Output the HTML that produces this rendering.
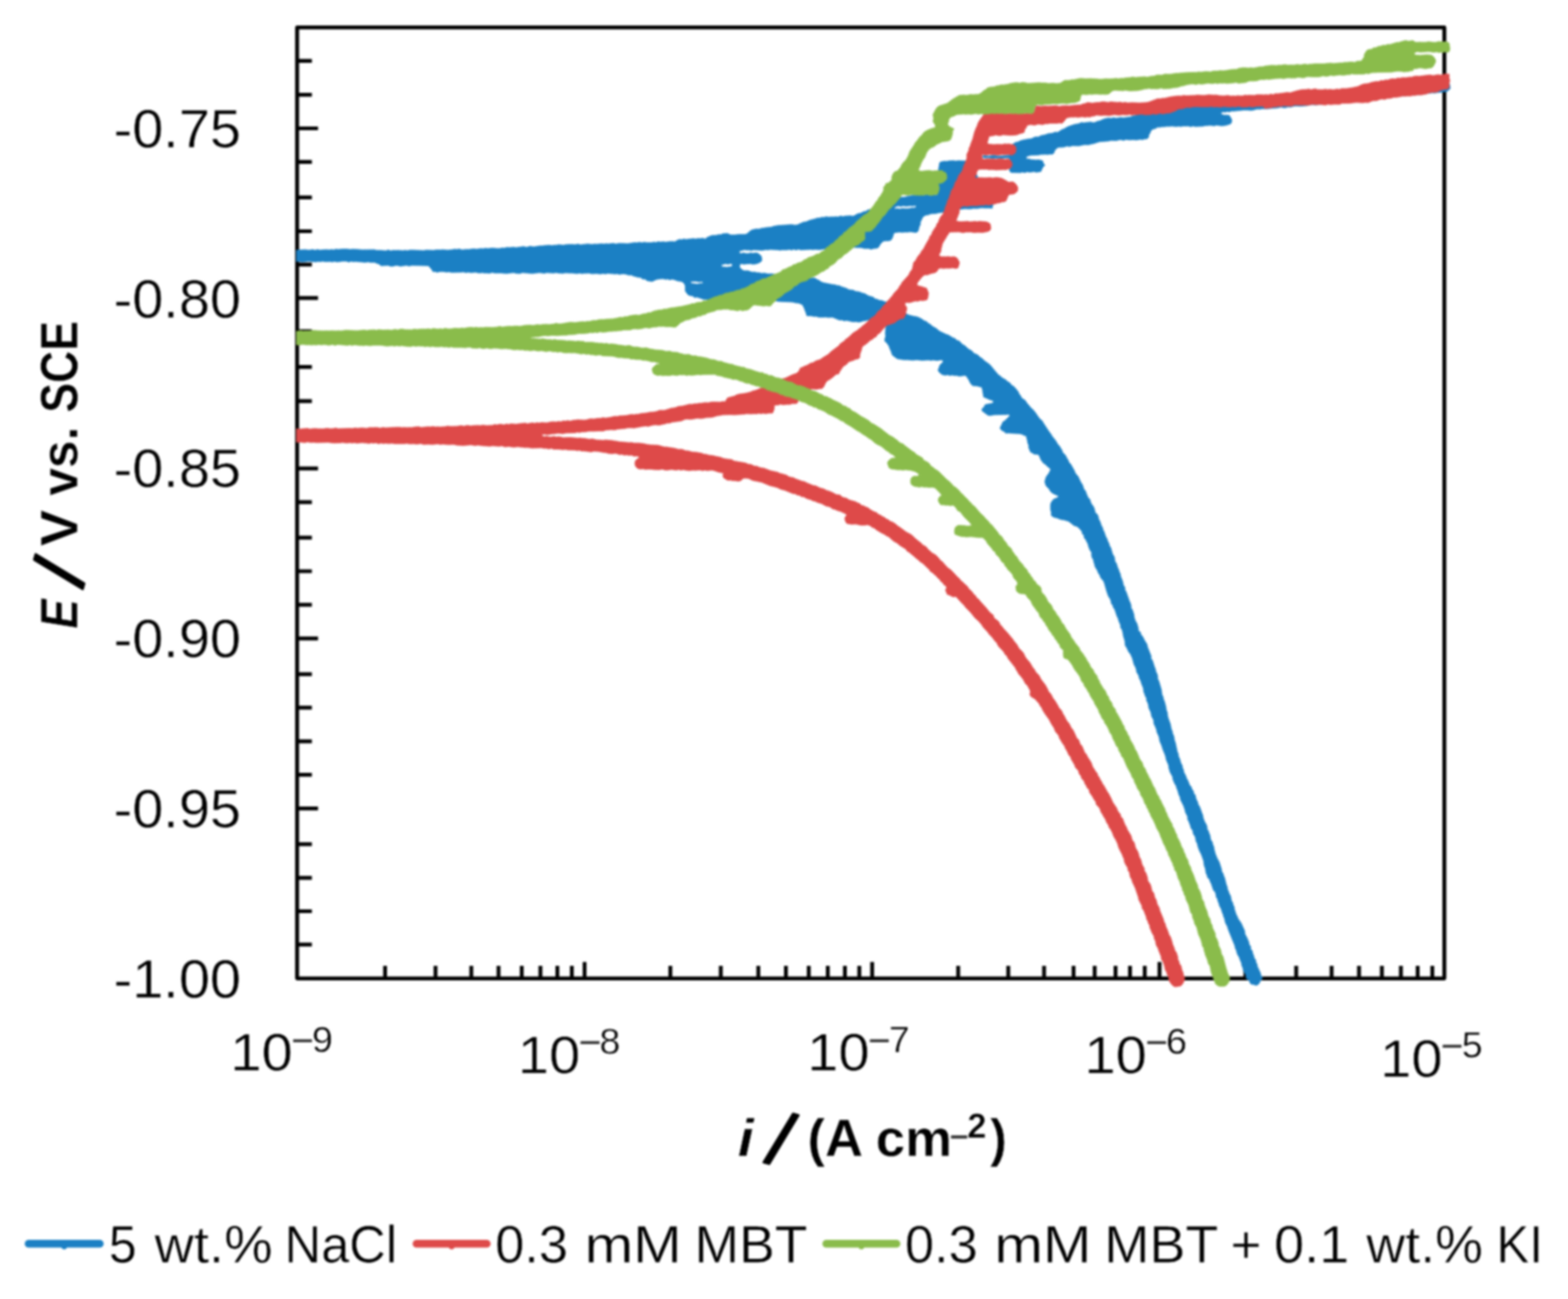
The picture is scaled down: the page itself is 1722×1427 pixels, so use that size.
<!DOCTYPE html>
<html lang="en"><head><meta charset="utf-8"><title>Polarization curves</title>
<style>
html,body{margin:0;padding:0;background:#fff;}
body{width:1722px;height:1427px;overflow:hidden;}
svg{display:block;}
text{font-family:"Liberation Sans","DejaVu Sans",sans-serif;fill:#000;stroke:#fff;stroke-width:0.45;stroke-linejoin:round;}
.b{font-weight:bold;}
.i{font-style:italic;}
</style></head><body>
<svg width="1722" height="1427" viewBox="0 0 1722 1427" role="img" aria-label="Potentiodynamic polarization curves">
<defs><filter id="soft" x="-2%" y="-2%" width="104%" height="104%" color-interpolation-filters="sRGB"><feGaussianBlur stdDeviation="1.0"/></filter></defs>
<rect width="1722" height="1427" fill="#fff"/>
<g filter="url(#soft)">
<g id="axes"><rect x="326.3" y="30.2" width="1259.9" height="1044.6" fill="none" stroke="#000" stroke-width="4.3" stroke-linejoin="round"/>
<path d="M326.3,66.9H342.5M326.3,104.1H342.5M326.3,177.9H342.5M326.3,216.9H342.5M326.3,254.0H342.5M326.3,290.7H342.5M326.3,363.8H342.5M326.3,403.2H342.5M326.3,440.6H342.5M326.3,478.0H342.5M326.3,551.6H342.5M326.3,590.6H342.5M326.3,627.5H342.5M326.3,664.4H342.5M326.3,740.7H342.5M326.3,777.4H342.5M326.3,814.3H342.5M326.3,851.2H342.5M326.3,927.3H342.5M326.3,964.3H342.5M326.3,1001.0H342.5M326.3,1037.6H342.5M326.3,141.0H349.3M326.3,327.4H349.3M326.3,514.7H349.3M326.3,701.3H349.3M326.3,888.2H349.3" stroke="#000" stroke-width="4.2" fill="none"/>
<path d="M422.9,1074.8V1061.0M478.3,1074.8V1061.0M517.6,1074.8V1061.0M547.5,1074.8V1061.0M573.0,1074.8V1061.0M593.5,1074.8V1061.0M612.1,1074.8V1061.0M628.0,1074.8V1061.0M736.2,1074.8V1061.0M791.6,1074.8V1061.0M832.8,1074.8V1061.0M863.1,1074.8V1061.0M888.2,1074.8V1061.0M909.1,1074.8V1061.0M927.9,1074.8V1061.0M943.7,1074.8V1061.0M1052.3,1074.8V1061.0M1107.3,1074.8V1061.0M1146.6,1074.8V1061.0M1179.0,1074.8V1061.0M1202.2,1074.8V1061.0M1225.1,1074.8V1061.0M1241.0,1074.8V1061.0M1257.2,1074.8V1061.0M1367.7,1074.8V1061.0M1423.5,1074.8V1061.0M1462.4,1074.8V1061.0M1492.5,1074.8V1061.0M1517.6,1074.8V1061.0M1538.5,1074.8V1061.0M1556.9,1074.8V1061.0M1573.0,1074.8V1061.0M642.0,1074.8V1056.8M957.8,1074.8V1056.8M1273.4,1074.8V1056.8" stroke="#000" stroke-width="4.2" fill="none"/></g>
<path id="blue" d="M1109.0,162.5 1108.3,168.3 1109.0,170.5 1096.0,171.6 1093.0,170.7 1090.8,170.6 1085.5,171.5 1080.3,170.8 1078.6,172.6 1081.5,173.4 1083.8,173.2 1086.9,173.3 1088.9,174.0 1096.5,173.7 1099.6,174.0 1107.2,173.3 1109.1,175.1 1109.2,177.9 1108.9,180.6 1108.7,187.8 1110.2,189.5 1120.6,189.8 1122.8,189.0 1125.1,189.7 1128.0,188.8 1131.0,189.2 1135.7,188.6 1137.9,189.2 1143.1,188.5 1144.2,185.9 1145.5,183.4 1147.5,181.6 1145.8,179.2 1145.1,176.7 1142.8,175.9 1140.0,175.6 1137.8,175.8 1131.9,175.3 1130.1,174.5 1127.2,174.8 1127.2,172.1 1130.1,171.1 1132.7,170.6 1140.7,170.3 1142.6,169.8 1148.5,169.6 1150.6,169.8 1153.4,169.3 1155.7,169.4 1157.5,168.1 1158.4,165.3 1160.0,163.5 1161.7,162.1 1164.7,161.8 1167.3,161.8 1172.0,160.5 1174.6,161.1 1177.8,160.1 1185.1,160.2 1190.6,159.0 1195.9,159.1 1198.4,158.2 1200.5,157.9 1207.3,155.8 1217.7,154.9 1220.1,154.3 1226.1,154.4 1228.5,153.8 1231.1,153.5 1233.9,154.3 1236.5,153.3 1241.0,153.8 1244.3,153.4 1247.0,153.8 1248.8,153.7 1252.2,153.1 1254.5,153.4 1257.1,152.7 1259.6,152.6 1261.4,150.9 1261.7,148.3 1263.1,146.0 1264.1,143.2 1266.6,141.8 1268.8,141.3 1271.1,139.8 1273.8,139.8 1276.0,139.2 1278.6,139.2 1281.9,138.8 1284.0,138.9 1286.5,138.6 1291.6,139.1 1294.7,138.7 1296.8,139.1 1299.4,138.5 1302.0,138.5 1305.4,138.6 1307.4,139.2 1310.3,138.5 1312.7,139.1 1320.9,138.7 1323.4,138.1 1325.3,138.1 1328.6,137.7 1333.8,138.2 1335.8,137.5 1341.6,138.2 1344.4,138.0 1346.9,137.6 1351.5,136.1 1352.8,133.6 1352.6,131.0 1350.0,126.8 1347.5,126.4 1344.7,126.4 1342.7,126.0 1340.5,124.8 1342.9,122.8 1345.2,123.3 1348.0,122.4 1349.8,123.1 1352.4,122.1 1355.4,122.1 1365.7,120.9 1371.2,121.0 1373.1,121.3 1376.5,121.0 1378.5,120.3 1381.0,119.8 1383.4,120.0 1386.1,119.5 1391.4,119.6 1396.6,119.0 1401.9,118.8 1406.9,117.7 1410.3,118.4 1412.2,118.2 1414.7,117.5 1417.6,117.7 1419.7,116.9 1422.9,116.4 1428.4,116.7 1433.4,116.3 1435.9,116.0 1438.1,115.2 1441.2,114.9 1445.9,115.2 1448.4,114.6 1450.9,114.8 1462.1,113.3 1464.2,113.3 1469.6,112.3 1472.1,112.6 1474.2,112.3 1476.7,112.2 1479.7,111.4 1482.6,111.2 1485.2,110.5 1487.6,110.7 1490.5,109.9 1492.6,110.2 1495.3,109.3 1498.0,109.2 1500.1,109.5 1502.7,108.8 1508.3,108.6 1518.6,107.1 1521.4,106.8 1523.7,106.9 1526.3,106.2 1529.2,106.0 1531.8,106.2 1536.2,105.3 1539.6,105.3 1544.6,104.8 1547.0,104.2 1549.4,104.1 1552.2,104.6 1554.7,103.8 1560.5,103.8 1562.5,103.0 1565.6,103.0 1568.0,102.3 1570.7,102.3 1572.9,101.9 1575.5,102.3 1578.4,101.7 1583.2,101.2 1585.6,100.7 1588.7,100.8 1590.3,99.6 1592.7,97.3 1592.4,95.0 1592.0,92.5 1590.6,90.4 1588.1,89.2 1585.8,89.2 1582.9,89.8 1580.4,89.4 1577.8,89.4 1575.3,90.4 1573.0,90.1 1562.6,91.5 1560.1,91.3 1557.0,91.6 1554.7,91.5 1552.0,92.2 1549.1,91.9 1546.6,92.3 1539.1,92.7 1536.5,93.1 1533.7,93.9 1526.5,94.0 1524.0,95.0 1521.2,94.4 1518.6,95.2 1516.1,95.1 1513.7,96.1 1510.3,95.8 1505.9,97.0 1503.0,97.0 1495.0,97.7 1492.1,98.2 1490.2,98.2 1487.7,98.8 1484.6,98.4 1479.4,99.4 1477.5,99.5 1474.9,100.2 1472.2,100.2 1468.8,100.8 1466.4,100.5 1464.4,101.3 1461.2,101.1 1451.2,101.8 1448.6,102.9 1445.6,102.6 1443.6,103.1 1438.2,103.8 1430.3,104.4 1428.0,104.3 1424.8,105.1 1422.9,104.5 1420.3,104.8 1417.4,105.6 1414.8,105.3 1412.1,105.3 1404.5,106.0 1402.1,106.9 1396.7,106.5 1393.8,107.5 1388.5,107.7 1386.7,108.1 1383.3,108.0 1381.0,108.4 1378.1,108.1 1373.3,109.3 1370.6,108.5 1365.2,109.5 1363.5,109.7 1360.6,109.6 1357.9,110.2 1355.3,110.5 1352.7,110.1 1347.1,110.9 1345.2,110.6 1342.3,111.3 1339.6,111.1 1331.5,112.2 1329.7,111.7 1326.6,112.6 1325.2,114.9 1321.8,114.4 1319.3,114.7 1317.5,114.4 1311.9,115.5 1309.2,115.0 1306.5,116.1 1304.3,115.4 1301.8,116.0 1299.2,116.0 1293.7,117.6 1291.2,117.5 1280.8,119.4 1278.1,119.1 1275.6,120.1 1272.9,120.0 1270.8,120.3 1268.4,121.3 1265.3,121.5 1262.6,121.1 1260.2,121.6 1258.2,121.6 1252.9,125.1 1243.9,127.4 1241.3,128.5 1233.4,129.4 1231.1,129.0 1225.7,129.9 1223.3,129.3 1220.1,130.1 1218.0,129.7 1215.4,129.9 1212.3,130.7 1207.7,132.8 1205.0,133.2 1203.1,134.3 1200.5,134.8 1197.8,133.9 1190.1,134.9 1187.3,134.6 1185.3,135.7 1179.7,136.8 1172.9,139.1 1168.6,141.5 1165.5,142.7 1164.0,143.9 1161.1,145.4 1158.9,145.1 1156.0,146.3 1150.7,146.9 1147.9,148.1 1143.2,148.9 1140.3,150.4 1138.2,150.3 1136.0,150.7 1133.0,152.3 1127.8,152.9 1122.7,154.0 1120.7,154.6 1117.7,156.0 1115.5,156.3 1108.9,160.6ZM325.6,287.4 328.1,286.9 331.4,287.9 338.8,286.9 347.0,287.8 349.0,287.2 352.3,287.4 354.0,286.9 357.5,287.5 362.2,287.3 365.3,287.8 367.0,287.1 369.9,287.7 372.7,287.6 375.3,287.1 378.1,286.9 380.6,287.1 383.0,287.9 385.7,287.0 388.2,287.6 390.4,287.3 400.9,288.2 404.3,287.8 406.4,288.2 411.4,288.2 413.7,289.3 416.5,290.2 418.5,292.0 426.2,291.6 428.8,292.5 431.7,292.4 434.1,291.7 436.9,291.7 439.4,292.4 446.6,291.6 449.1,292.3 452.5,291.6 470.6,292.0 474.1,296.0 475.5,298.4 478.0,298.2 480.0,299.2 482.5,298.5 486.0,298.3 490.4,298.9 493.5,298.7 495.6,299.3 506.7,299.1 509.0,298.8 511.6,299.5 514.4,299.1 517.3,299.6 522.3,299.1 524.7,299.7 527.2,299.9 529.8,299.6 532.2,300.1 534.8,299.9 537.5,300.2 540.6,299.3 543.3,300.0 550.3,299.9 556.1,300.4 564.1,299.6 566.6,300.2 571.2,300.4 573.6,299.6 584.6,300.4 592.5,299.6 597.8,300.3 600.4,299.6 607.9,300.1 610.8,299.5 612.7,299.9 618.2,300.3 621.0,299.8 626.4,300.1 628.2,300.0 633.9,300.6 636.3,300.1 639.1,300.6 641.8,300.2 647.3,300.1 649.0,300.7 651.8,300.8 654.7,300.5 659.4,301.0 662.8,300.4 664.7,301.0 667.6,300.3 675.8,301.1 677.7,300.8 680.6,301.4 682.8,300.9 686.2,300.9 690.8,302.3 693.1,302.1 695.6,303.2 698.4,303.9 701.4,304.7 703.2,304.7 705.8,306.6 708.6,306.7 710.9,308.5 716.2,309.2 720.9,307.1 725.6,306.3 728.6,306.2 731.2,307.0 733.2,306.6 735.6,307.4 738.2,306.7 741.5,307.6 743.7,308.6 748.5,309.3 750.8,310.7 752.2,312.9 752.6,314.8 752.6,319.7 754.2,322.0 755.8,323.9 758.6,324.9 761.0,325.0 762.3,326.8 765.8,326.6 773.1,329.0 775.8,328.9 778.3,329.4 785.7,329.2 788.5,329.4 791.5,329.9 796.7,329.4 799.0,329.5 801.7,330.0 809.5,329.9 817.3,329.2 819.3,329.8 830.2,329.6 832.7,329.4 835.5,329.8 838.2,329.8 843.2,330.7 846.1,329.9 856.1,331.2 868.6,331.8 871.4,332.1 873.8,332.8 877.1,333.0 881.3,334.8 883.4,338.9 884.2,341.5 885.5,344.7 886.0,346.9 891.1,347.0 894.1,347.7 896.0,347.5 899.3,348.4 904.7,348.5 906.9,348.2 909.2,348.8 914.4,348.6 922.1,351.7 924.5,351.5 927.0,352.4 929.3,352.0 932.2,352.5 935.1,353.3 937.9,353.6 940.1,353.3 942.9,353.9 945.4,353.4 948.0,352.6 950.4,352.3 952.7,351.7 955.0,351.4 957.8,351.9 963.1,353.9 970.9,355.0 973.2,356.6 972.2,366.4 972.7,369.0 971.8,372.2 971.6,374.8 973.7,376.6 976.2,380.1 977.2,382.9 978.4,385.5 979.9,390.1 984.4,393.5 985.9,394.2 990.9,395.1 993.7,395.3 996.6,395.2 1002.3,395.8 1006.7,395.3 1012.6,395.9 1019.9,395.5 1022.5,396.0 1024.7,395.5 1027.7,395.9 1030.5,395.9 1032.6,395.4 1035.4,395.5 1035.6,398.3 1033.8,399.3 1031.7,402.0 1031.3,404.1 1030.1,406.4 1031.5,409.0 1034.7,411.6 1038.2,412.2 1040.9,411.7 1042.9,412.6 1045.8,412.0 1048.1,412.6 1051.0,412.6 1053.1,413.2 1056.0,413.1 1058.6,412.6 1060.9,412.7 1063.9,417.3 1066.0,421.6 1068.4,423.8 1073.3,424.1 1076.2,425.0 1077.9,425.1 1079.0,427.9 1079.3,431.0 1079.9,433.6 1080.1,436.1 1084.5,437.9 1087.2,439.3 1089.0,439.5 1091.3,441.1 1089.8,442.9 1081.9,444.5 1080.8,446.9 1078.5,449.0 1078.4,451.3 1084.8,456.1 1086.9,456.6 1092.0,455.7 1102.6,455.4 1105.2,455.5 1107.9,455.0 1109.0,456.9 1106.8,458.8 1105.1,460.7 1103.3,462.3 1101.3,463.6 1100.3,466.1 1099.0,468.4 1098.3,470.7 1100.4,473.0 1102.7,473.9 1104.7,476.1 1106.6,475.7 1119.8,476.4 1122.8,477.2 1124.6,478.3 1127.1,479.0 1127.6,481.7 1128.3,484.0 1128.6,486.6 1129.8,489.2 1129.7,491.8 1131.8,496.7 1133.8,497.6 1135.8,499.0 1139.1,499.1 1141.1,500.1 1143.1,505.1 1145.8,508.7 1148.2,510.2 1150.0,512.3 1151.6,513.3 1153.9,515.7 1151.9,519.7 1148.8,524.1 1147.4,529.1 1147.9,531.1 1148.7,533.5 1152.4,537.6 1153.6,539.8 1155.3,541.5 1159.8,543.7 1162.6,544.7 1161.3,546.8 1159.0,547.5 1156.7,548.7 1154.1,552.6 1153.7,555.2 1153.8,560.2 1154.6,563.1 1154.4,566.1 1156.0,567.4 1158.1,568.5 1160.6,568.9 1163.8,570.3 1166.3,571.0 1168.1,571.1 1173.7,572.8 1179.6,577.4 1182.5,578.2 1184.9,580.0 1188.1,583.8 1188.7,586.4 1190.4,588.1 1190.7,591.0 1192.4,592.7 1193.4,595.1 1194.8,597.5 1195.2,599.6 1196.4,602.9 1197.3,604.8 1198.8,606.8 1198.8,610.1 1199.3,612.7 1200.7,614.5 1201.2,617.4 1202.0,619.7 1202.4,622.1 1205.4,627.3 1206.1,629.4 1207.5,631.2 1208.6,634.2 1209.9,636.1 1211.7,638.1 1212.7,640.2 1215.6,650.5 1217.5,655.6 1218.8,657.3 1220.0,659.9 1220.4,662.9 1222.1,665.1 1222.6,667.2 1224.2,669.5 1226.7,677.1 1227.8,679.1 1228.6,681.9 1230.7,687.1 1230.6,689.6 1232.0,691.2 1232.9,694.0 1233.7,698.7 1235.3,704.0 1235.8,709.2 1237.1,711.1 1239.6,716.3 1241.3,718.3 1243.5,723.0 1245.5,730.4 1246.8,732.5 1247.9,735.4 1248.1,738.1 1250.6,742.2 1251.2,745.3 1252.5,747.6 1254.1,752.4 1255.3,755.1 1255.9,757.7 1256.0,760.0 1257.1,762.5 1257.7,764.7 1259.0,766.7 1259.2,769.7 1260.5,772.0 1261.2,774.4 1261.5,777.2 1262.6,780.0 1263.7,781.9 1264.8,787.3 1266.2,789.5 1267.0,791.6 1267.1,794.7 1269.1,799.0 1270.2,802.1 1270.4,804.1 1272.8,809.2 1273.7,814.2 1275.6,818.7 1277.5,824.5 1279.4,828.9 1280.1,831.2 1280.7,834.4 1283.4,840.8 1283.6,843.5 1284.5,846.7 1285.1,848.5 1287.8,853.4 1288.1,856.3 1290.0,860.8 1291.7,863.5 1292.2,865.7 1293.3,868.2 1294.7,873.2 1296.0,875.7 1296.3,878.2 1299.8,885.3 1301.4,889.9 1301.7,892.1 1304.2,897.0 1304.3,900.3 1305.5,902.3 1307.4,907.4 1308.0,909.9 1309.8,912.1 1310.1,914.2 1310.8,916.7 1312.4,918.8 1313.2,922.0 1313.3,923.8 1314.9,926.8 1315.4,929.5 1317.0,934.1 1319.4,938.9 1321.9,945.9 1322.1,948.7 1322.5,950.9 1323.7,954.1 1324.4,958.9 1325.7,961.8 1326.2,964.1 1328.3,965.9 1329.1,968.7 1330.1,970.6 1332.7,978.2 1334.5,979.8 1335.4,982.9 1335.6,985.2 1337.0,987.5 1337.7,990.5 1338.7,992.5 1339.0,994.6 1340.7,997.7 1341.6,999.9 1342.2,1002.3 1343.2,1004.6 1343.9,1007.2 1344.9,1009.4 1345.2,1011.7 1346.3,1014.9 1347.7,1017.2 1349.3,1022.2 1356.0,1038.7 1356.6,1041.7 1357.8,1044.0 1358.3,1046.5 1359.3,1049.1 1360.7,1051.2 1363.5,1058.6 1363.6,1060.5 1365.0,1063.5 1365.5,1066.1 1366.6,1068.6 1367.9,1070.5 1369.0,1075.5 1371.9,1076.6 1372.4,1079.0 1373.9,1081.1 1376.8,1081.6 1379.3,1082.4 1381.6,1081.7 1383.3,1079.6 1384.2,1077.6 1386.0,1075.2 1386.2,1073.7 1384.7,1071.2 1384.2,1068.8 1380.9,1061.7 1380.5,1058.9 1379.3,1057.3 1379.1,1054.8 1377.4,1052.3 1376.7,1049.3 1375.8,1047.6 1375.3,1044.6 1373.6,1042.7 1373.6,1039.9 1371.9,1037.5 1371.5,1035.0 1369.3,1029.7 1368.3,1028.1 1367.1,1025.5 1367.0,1022.7 1362.9,1013.7 1359.7,1009.2 1358.9,1006.9 1357.6,1004.5 1355.7,998.8 1355.5,996.3 1354.2,993.9 1353.8,991.4 1352.5,989.7 1351.4,983.9 1350.2,982.2 1349.4,979.7 1348.0,976.6 1347.9,974.6 1346.7,971.6 1344.9,964.2 1343.8,961.7 1343.3,959.7 1341.9,957.6 1341.4,954.6 1339.0,947.0 1336.7,942.7 1334.7,937.8 1333.3,932.4 1333.1,930.2 1332.0,927.9 1331.4,925.0 1329.8,922.8 1329.1,919.8 1329.0,918.0 1327.7,915.0 1327.2,913.0 1325.8,910.9 1325.7,908.4 1324.7,905.6 1323.3,903.3 1322.2,900.8 1321.2,897.7 1321.0,895.6 1320.1,893.6 1317.6,886.4 1315.8,883.4 1315.3,880.9 1314.2,879.1 1313.1,875.9 1312.9,873.6 1311.2,872.0 1310.6,869.1 1308.8,866.6 1308.5,864.8 1306.5,862.4 1304.4,857.1 1303.0,854.9 1302.7,853.2 1300.0,847.9 1299.9,846.0 1298.7,843.4 1298.4,841.1 1296.9,838.3 1295.4,833.0 1294.2,831.0 1294.1,828.6 1292.9,825.5 1290.9,816.1 1289.8,812.9 1289.6,810.9 1288.9,808.0 1287.7,805.4 1287.6,803.5 1286.4,801.0 1285.3,795.3 1282.8,788.3 1282.2,785.5 1282.0,782.6 1281.1,780.6 1280.1,775.1 1278.7,770.1 1277.8,768.1 1277.5,765.7 1276.2,763.2 1275.5,757.8 1272.7,748.2 1271.4,745.6 1271.3,742.3 1270.7,740.3 1269.3,737.4 1269.0,735.2 1267.9,732.6 1265.6,725.3 1264.1,723.4 1264.2,720.7 1260.2,710.6 1259.7,707.8 1257.3,704.0 1254.7,698.9 1253.1,697.3 1252.4,694.4 1250.2,692.9 1250.1,690.1 1248.6,684.8 1247.3,682.7 1246.3,680.3 1245.6,677.8 1245.3,675.1 1243.6,669.7 1242.2,667.9 1242.2,665.4 1241.4,662.3 1240.5,660.7 1236.8,650.2 1235.4,647.7 1235.4,645.3 1233.8,642.8 1232.9,638.5 1230.7,632.9 1230.4,630.5 1229.2,628.1 1228.5,625.6 1227.3,623.2 1226.8,621.1 1225.8,618.4 1224.4,616.4 1224.2,613.9 1223.6,611.2 1221.9,608.8 1219.9,601.7 1218.4,599.3 1217.9,596.9 1216.6,594.6 1215.6,591.4 1214.4,589.5 1212.6,584.2 1211.3,581.7 1210.9,579.5 1209.7,577.7 1208.1,572.9 1206.5,569.9 1206.2,567.7 1205.1,565.0 1203.0,563.4 1201.6,558.1 1200.5,555.9 1198.6,553.4 1197.7,551.3 1196.9,548.6 1194.9,546.4 1193.1,542.2 1192.1,539.2 1190.6,537.8 1188.7,532.3 1187.1,530.0 1183.8,523.0 1182.3,521.6 1180.7,519.2 1179.9,516.9 1175.7,509.6 1174.1,508.2 1173.0,505.2 1171.9,503.7 1170.5,500.8 1168.9,498.7 1167.1,497.2 1166.2,494.2 1165.2,492.9 1163.6,490.0 1161.6,488.1 1159.5,484.2 1155.7,479.4 1154.2,476.9 1151.5,473.2 1145.8,464.6 1144.4,462.0 1142.3,460.6 1139.1,456.2 1138.0,454.4 1134.8,450.3 1132.7,448.6 1127.6,442.6 1126.1,440.1 1121.8,437.0 1121.0,435.0 1119.1,432.4 1118.2,430.2 1114.6,425.8 1112.7,424.1 1110.6,423.0 1109.3,420.7 1106.3,419.1 1105.0,417.6 1100.1,414.7 1098.5,412.9 1096.6,411.9 1089.9,404.0 1088.4,401.9 1086.4,400.0 1082.1,397.0 1079.7,395.0 1078.4,393.5 1076.3,392.5 1074.0,390.0 1069.4,387.9 1067.4,385.6 1063.4,383.2 1059.4,379.6 1057.1,378.4 1053.3,374.5 1050.4,373.7 1049.0,371.9 1046.3,370.9 1041.6,368.1 1039.1,367.3 1032.3,364.1 1030.1,362.6 1028.4,360.8 1025.9,359.6 1023.5,358.0 1021.4,356.1 1019.8,355.4 1017.9,353.4 1014.8,352.3 1012.9,350.8 1008.5,348.4 1006.1,347.8 1003.9,347.5 997.9,346.0 993.6,343.8 990.9,343.0 986.2,341.1 982.4,338.0 979.5,336.2 978.0,334.7 975.5,333.6 973.6,331.8 971.2,331.3 968.2,330.1 966.0,330.0 963.2,328.7 960.9,328.3 959.2,326.5 953.9,325.0 949.1,322.3 947.1,322.1 944.9,321.0 941.6,320.2 939.4,320.1 937.2,318.8 934.4,318.5 931.6,317.9 929.7,316.7 924.2,315.0 921.7,313.8 919.6,313.7 916.9,312.8 915.1,312.7 904.2,310.6 901.6,309.6 900.1,308.3 897.4,307.1 895.2,305.7 893.3,305.2 890.5,305.7 887.5,305.2 879.8,307.0 877.8,305.6 872.7,305.2 870.5,304.1 868.0,303.9 864.6,303.3 862.2,303.3 859.8,302.0 857.5,301.9 855.0,300.9 852.5,301.6 849.0,300.9 846.6,300.8 843.9,300.9 839.3,299.9 836.3,300.3 833.5,299.4 831.2,299.5 828.7,298.8 826.3,299.0 820.9,297.3 818.6,297.4 816.0,297.1 813.8,295.3 812.3,293.7 812.4,290.4 814.5,289.7 816.8,290.3 819.3,289.9 824.2,289.7 826.9,290.3 829.8,290.0 831.9,289.4 834.9,288.1 836.6,286.4 836.6,284.0 836.0,281.4 834.4,279.7 831.9,278.0 829.5,277.8 826.9,278.2 824.6,277.8 821.6,278.5 819.0,278.5 816.7,277.7 813.8,278.5 811.7,277.7 812.7,275.2 814.8,275.2 817.3,274.3 819.8,274.8 823.0,274.8 825.0,275.2 827.7,274.4 835.8,275.0 837.8,274.9 841.1,274.2 843.4,274.6 845.8,274.1 854.2,274.5 856.3,274.9 858.8,274.6 864.4,274.6 866.8,274.0 869.5,274.7 871.8,273.8 874.3,274.7 876.7,273.8 879.4,274.6 890.2,274.0 892.3,274.3 895.2,274.0 900.2,274.3 907.2,273.3 913.0,272.1 914.9,272.9 917.8,272.0 920.5,272.5 923.1,271.7 925.1,272.0 927.7,271.5 933.0,272.1 938.7,271.8 941.1,272.1 943.5,272.0 946.7,272.2 948.8,273.0 954.5,273.0 956.4,273.9 959.1,273.1 962.3,272.8 964.5,272.1 967.0,268.0 969.3,265.5 971.0,264.7 976.5,264.5 978.6,263.7 979.8,261.8 980.6,259.9 981.5,256.6 983.0,255.5 988.0,254.9 990.5,255.3 993.6,255.0 996.2,255.1 998.7,254.8 1000.8,254.7 1004.1,255.3 1006.7,255.3 1008.4,253.8 1009.7,248.5 1010.8,246.8 1010.7,244.2 1013.2,239.1 1014.6,237.4 1017.2,236.2 1019.6,236.1 1021.6,235.1 1024.5,234.7 1027.0,234.7 1030.2,233.9 1037.0,233.0 1039.7,231.9 1042.6,232.0 1045.4,231.3 1048.2,231.2 1050.7,230.7 1052.5,229.8 1055.6,229.9 1058.0,229.4 1060.3,229.3 1063.0,229.6 1065.5,229.6 1068.8,228.9 1073.6,229.1 1076.6,228.4 1079.2,228.2 1080.9,228.6 1086.6,228.5 1089.6,228.9 1090.7,223.6 1089.8,221.8 1088.1,219.6 1087.5,217.0 1085.6,214.9 1084.3,212.9 1083.3,210.2 1082.2,208.3 1080.2,205.8 1077.7,201.4 1077.0,199.2 1075.5,196.6 1073.7,194.5 1072.9,192.6 1070.8,189.9 1069.6,187.8 1068.1,186.3 1065.0,181.5 1064.0,179.3 1062.4,177.4 1060.4,176.7 1057.2,176.8 1052.5,176.4 1049.5,176.9 1047.5,176.4 1042.1,176.7 1039.9,177.2 1037.2,177.1 1034.4,177.5 1032.0,178.4 1030.7,186.1 1030.9,191.1 1029.8,196.6 1030.4,199.2 1029.9,201.7 1029.9,204.2 1029.4,207.1 1029.3,209.7 1029.5,212.2 1028.7,214.6 1026.3,214.1 1023.0,214.3 1021.0,214.2 1017.5,213.6 1015.3,214.4 1013.1,214.0 1010.2,214.1 1007.2,213.6 1005.0,214.5 1002.8,214.5 1000.2,214.9 992.6,216.7 989.0,216.7 987.2,217.7 984.3,217.9 982.5,219.0 979.4,219.8 977.5,221.2 975.2,222.4 972.1,223.5 970.5,224.5 968.0,224.9 965.1,226.4 962.8,226.9 960.7,228.1 955.7,230.1 953.1,230.6 951.2,232.1 948.6,232.4 945.5,234.1 941.3,235.1 938.6,236.8 936.1,237.5 934.1,236.9 928.1,237.3 925.8,238.0 923.5,237.2 920.2,238.3 918.1,238.0 915.3,238.3 912.9,238.2 910.0,238.5 907.4,237.9 905.2,238.8 902.3,238.8 899.6,239.6 897.7,239.5 894.9,240.5 889.7,241.8 884.8,243.8 882.4,243.9 875.5,247.1 872.4,247.2 870.2,246.8 867.7,246.8 854.1,247.7 849.5,248.6 847.0,249.5 841.1,250.0 838.4,250.6 836.4,250.7 833.2,251.7 830.8,251.5 828.1,252.0 825.9,252.6 823.7,253.7 822.1,255.4 819.6,257.2 817.0,257.6 812.0,257.4 806.8,258.1 802.2,258.0 799.1,256.4 793.9,256.7 791.7,257.8 789.4,257.7 786.4,258.4 781.5,258.7 776.6,260.7 774.8,262.4 771.9,261.7 768.8,262.1 766.5,261.9 763.6,262.5 761.7,262.0 753.5,263.1 750.9,262.6 748.7,263.3 746.3,262.9 743.2,264.2 741.5,265.4 736.4,265.2 731.0,266.0 728.0,265.5 726.0,265.9 722.7,265.5 720.6,266.3 717.8,265.9 715.3,266.6 710.3,266.5 707.3,266.0 704.9,266.7 702.6,266.1 699.1,266.7 697.2,266.4 688.7,267.7 686.3,267.4 681.0,267.3 678.8,267.4 676.3,268.1 673.6,267.3 668.2,267.9 665.9,267.7 663.1,268.1 660.5,267.8 655.1,268.2 652.7,268.1 650.3,268.5 645.4,267.9 637.3,268.9 634.9,268.1 631.9,268.8 627.2,268.4 621.4,268.7 618.9,269.3 613.3,268.8 611.6,269.2 609.0,269.3 606.1,269.8 602.9,269.3 595.4,270.1 592.8,270.1 587.3,271.0 585.1,271.1 582.1,270.4 579.6,271.3 577.3,271.4 575.0,270.8 566.6,272.0 564.4,271.6 559.4,271.9 556.6,271.8 553.7,272.6 551.5,272.3 549.1,272.9 545.9,273.0 540.8,272.5 535.7,273.1 533.6,272.7 530.3,273.2 527.9,273.0 523.2,273.8 520.5,273.3 514.7,274.1 512.2,273.9 507.4,274.4 504.2,273.5 501.7,274.1 499.3,273.7 496.5,274.3 491.6,274.8 486.3,274.3 483.6,274.5 478.6,274.5 476.4,275.0 468.2,274.7 465.3,275.2 452.9,274.7 449.7,274.8 447.7,275.3 444.9,274.9 442.4,275.3 437.2,274.9 434.0,275.1 431.5,274.9 429.2,275.5 426.2,274.6 424.0,275.4 418.3,275.0 413.5,274.9 410.8,274.2 398.0,274.4 392.3,273.9 387.2,273.8 384.7,274.1 380.0,273.6 374.4,273.7 371.5,274.1 369.0,273.7 366.4,274.4 364.2,274.1 361.7,274.5 359.1,274.2 356.2,274.3 351.2,274.8 348.2,274.0 346.3,274.9 343.0,274.1 340.3,274.7 337.8,274.7 335.8,274.2 325.6,274.8ZM983.9,226.9 987.0,226.1 989.0,226.9 991.8,226.0 994.9,226.6 999.8,226.1 1002.3,226.3 1005.6,225.7 1006.3,227.6 1003.5,228.4 1001.8,228.3 999.0,229.0 995.9,229.2 990.6,228.9 987.9,229.7 986.0,229.1 982.7,229.5 982.4,228.0ZM792.2,291.0 796.5,289.8 799.8,290.3 802.4,289.5 804.5,290.5 803.5,292.9 800.8,293.1 798.7,293.6 792.7,293.0ZM758.4,309.2 763.8,309.0 768.5,309.7 771.2,309.0 772.2,311.3 769.7,311.3 766.5,311.9 764.1,312.0 761.3,311.4 759.1,311.3Z" fill="#1b80c4" stroke="#1b80c4" stroke-width="0.6" stroke-linejoin="round"/>
<path id="red" d="M595.0,477.2 598.3,477.1 600.6,477.5 603.3,477.3 606.3,476.7 608.7,476.7 610.7,476.2 613.4,476.0 618.3,476.4 621.4,475.8 631.8,475.4 634.0,474.7 636.4,475.2 639.0,474.4 642.2,474.5 646.9,473.7 652.4,473.8 657.2,473.4 660.7,473.6 662.9,473.4 665.2,472.5 670.9,472.1 675.5,472.3 678.1,471.4 683.7,470.9 685.7,470.9 689.0,470.1 693.4,470.0 696.3,470.2 706.6,468.3 709.8,468.0 711.6,468.4 716.9,467.1 720.0,466.7 722.1,467.0 724.7,467.0 727.1,466.2 730.1,465.8 732.8,464.8 735.1,464.9 737.2,464.1 740.1,463.5 748.0,462.5 752.6,460.6 755.3,460.4 758.3,460.7 766.3,459.4 768.3,459.8 770.8,459.8 775.8,458.8 781.0,458.6 783.7,458.1 786.6,457.1 793.8,455.8 802.0,455.5 806.8,455.8 815.2,455.1 817.5,455.1 819.6,454.6 825.4,454.8 828.2,454.5 830.4,454.7 833.3,454.1 835.5,454.5 838.3,454.0 840.9,454.5 843.7,453.9 848.5,453.8 849.7,451.0 850.4,448.5 850.1,446.1 851.7,445.0 854.9,444.9 857.0,443.9 859.9,444.7 864.4,444.2 867.5,444.3 870.5,443.3 872.7,443.4 875.3,443.1 876.4,441.2 877.2,438.9 882.1,435.5 885.6,432.1 887.5,430.9 889.2,428.5 891.6,427.2 897.1,427.7 899.6,427.0 902.2,427.1 904.0,425.8 905.2,424.1 906.0,422.0 907.6,419.2 909.6,417.8 911.9,416.5 916.4,412.9 918.1,411.2 921.1,410.8 922.2,408.3 926.1,402.4 929.0,400.8 930.7,399.2 932.0,397.5 937.5,395.8 939.4,394.8 942.2,394.3 944.3,392.8 944.2,390.6 944.9,387.6 946.0,384.8 946.5,382.3 947.3,380.6 952.1,377.3 955.7,373.9 958.2,372.7 960.2,370.8 962.3,369.9 963.5,367.4 966.1,366.1 969.5,361.7 971.2,360.3 972.8,358.3 975.3,356.9 977.3,356.5 982.9,354.5 985.1,352.4 989.2,350.2 992.3,350.0 994.7,345.5 995.0,342.4 995.8,340.2 995.8,337.6 994.2,335.5 993.7,332.9 995.7,332.3 998.3,332.4 1001.0,332.1 1003.1,331.2 1005.5,330.8 1008.1,331.0 1010.6,330.0 1013.9,330.3 1018.1,329.3 1019.0,326.8 1019.7,321.8 1017.5,316.5 1014.7,315.7 1012.6,314.9 1009.8,314.3 1007.5,313.4 1007.0,312.4 1007.9,310.0 1013.0,303.8 1015.5,302.0 1018.3,302.1 1023.4,300.2 1025.5,299.9 1027.8,299.1 1029.3,297.8 1030.6,295.2 1033.6,294.5 1035.6,295.1 1038.5,294.7 1043.5,294.7 1046.1,294.2 1049.2,294.9 1051.9,294.5 1053.4,290.3 1053.6,287.8 1052.5,286.1 1051.4,283.8 1049.0,282.2 1047.3,281.9 1043.8,282.3 1041.4,281.8 1039.2,282.1 1036.1,281.9 1033.8,282.1 1031.1,280.8 1032.2,278.1 1033.2,276.6 1033.5,273.9 1034.9,268.2 1035.8,266.2 1038.7,261.7 1040.0,259.3 1041.5,257.3 1042.7,255.0 1053.2,254.8 1057.9,255.7 1060.6,255.0 1066.5,254.9 1068.6,255.4 1071.7,255.6 1073.7,255.2 1078.9,255.5 1084.1,254.6 1086.9,253.4 1088.0,251.7 1088.1,249.2 1087.3,245.8 1085.4,244.6 1083.3,243.7 1075.8,243.1 1073.0,243.5 1070.9,243.1 1065.2,243.7 1062.9,243.1 1054.9,243.6 1049.9,242.7 1053.5,233.5 1053.6,230.2 1055.1,228.0 1057.0,226.6 1059.5,226.3 1062.0,226.8 1064.8,226.1 1069.5,225.9 1072.7,226.1 1077.9,225.3 1080.4,225.5 1083.0,224.7 1085.6,225.4 1089.9,224.4 1093.1,224.0 1095.8,223.0 1097.6,223.0 1100.1,221.9 1102.8,221.8 1104.9,220.7 1106.9,215.8 1108.2,213.7 1113.8,212.9 1115.8,211.6 1117.4,210.0 1117.9,207.0 1117.4,204.9 1116.0,202.8 1114.2,200.8 1112.3,199.8 1107.6,200.1 1105.0,198.4 1100.6,196.1 1095.9,195.0 1092.7,195.0 1090.4,195.5 1087.5,195.0 1082.2,195.3 1074.6,195.1 1071.8,195.7 1070.5,194.0 1072.2,192.2 1072.6,189.4 1073.8,186.7 1075.9,186.1 1078.9,185.9 1081.7,186.0 1083.7,185.9 1086.8,186.6 1088.6,186.3 1091.5,186.4 1094.1,186.8 1102.0,186.3 1104.7,186.4 1110.0,184.7 1111.8,180.9 1110.9,177.7 1109.2,175.5 1106.6,174.4 1104.3,175.2 1099.0,174.2 1097.0,174.3 1093.7,175.0 1091.2,174.4 1089.3,174.4 1083.7,174.5 1080.9,175.1 1078.9,174.4 1078.4,172.1 1078.8,169.7 1081.8,170.3 1084.5,170.3 1086.7,169.7 1088.9,170.0 1092.5,170.0 1094.8,170.4 1097.6,170.3 1099.9,169.8 1102.7,169.9 1108.1,169.7 1110.5,170.4 1112.4,169.9 1115.0,168.1 1115.9,165.6 1115.9,163.1 1115.3,161.1 1113.4,159.0 1110.6,158.7 1108.6,158.1 1105.5,158.2 1103.4,157.9 1100.7,158.7 1095.0,158.6 1092.5,158.8 1089.9,158.7 1085.2,158.1 1084.2,157.2 1086.3,149.7 1091.4,149.0 1093.6,148.3 1096.2,148.9 1099.1,149.0 1101.4,148.1 1109.4,148.7 1114.8,148.4 1117.2,148.1 1119.7,146.9 1122.5,146.3 1124.8,145.4 1125.4,142.3 1126.9,140.5 1127.8,138.0 1130.5,137.1 1133.0,136.9 1135.4,137.5 1137.5,137.2 1140.2,136.3 1143.0,136.8 1145.4,136.9 1147.7,136.0 1150.7,136.0 1153.2,135.5 1161.4,135.5 1163.6,135.0 1166.1,135.6 1168.2,133.7 1171.2,129.7 1173.9,129.0 1176.4,128.7 1178.9,128.8 1181.5,128.6 1183.8,129.0 1188.8,128.2 1191.9,128.9 1193.9,128.2 1196.6,128.7 1199.2,127.7 1201.6,127.5 1204.2,126.5 1209.5,127.0 1211.3,126.7 1214.6,126.7 1217.1,127.0 1220.0,126.8 1222.2,126.2 1224.4,126.0 1227.4,126.5 1230.3,126.6 1232.3,126.0 1238.2,126.3 1240.2,125.7 1243.2,126.5 1245.8,125.9 1248.0,126.2 1253.2,125.6 1258.8,126.3 1261.1,126.0 1263.5,126.1 1266.3,125.1 1269.0,125.7 1271.0,125.4 1273.6,124.6 1277.1,125.2 1282.0,124.3 1284.7,124.2 1291.7,121.6 1293.8,120.0 1299.1,119.5 1302.2,118.2 1304.2,118.1 1306.9,118.3 1309.6,117.6 1314.7,117.2 1317.3,117.5 1324.7,117.6 1327.8,117.6 1330.2,116.9 1333.3,117.7 1335.9,117.3 1338.5,117.7 1340.7,117.8 1343.6,117.0 1351.1,117.7 1354.0,117.0 1356.1,117.7 1359.1,116.9 1361.6,117.0 1364.1,117.9 1366.3,117.7 1369.3,117.8 1372.2,116.9 1374.6,117.7 1376.9,117.6 1379.4,117.0 1385.3,116.8 1387.4,117.0 1389.0,119.1 1391.0,119.1 1393.1,118.6 1395.8,118.5 1398.8,117.4 1401.6,117.5 1403.8,116.8 1406.8,117.0 1409.4,116.3 1417.1,116.6 1419.1,116.4 1421.6,115.3 1429.7,115.6 1432.8,115.4 1437.4,115.6 1439.9,114.7 1443.1,114.8 1445.2,115.1 1450.4,114.7 1455.5,115.4 1458.3,114.6 1461.4,115.0 1465.9,114.6 1471.1,114.7 1473.6,113.6 1482.0,113.4 1489.8,112.6 1496.8,113.0 1499.4,112.6 1502.5,112.8 1507.4,110.8 1512.2,110.5 1514.7,109.4 1517.5,108.8 1520.7,109.3 1523.3,108.2 1527.8,107.9 1530.2,106.9 1533.6,106.9 1536.0,106.6 1540.6,105.6 1543.0,105.7 1545.8,105.4 1549.1,105.6 1551.5,104.8 1554.1,104.9 1556.5,104.2 1561.4,104.2 1567.1,103.1 1568.9,102.3 1572.3,101.6 1574.1,101.6 1577.3,101.3 1579.7,100.6 1581.8,99.2 1584.6,98.5 1587.3,97.9 1589.0,98.1 1591.3,96.6 1591.5,94.4 1591.5,91.6 1592.3,88.6 1591.5,85.7 1591.5,81.4 1586.0,81.2 1584.2,82.2 1581.1,82.3 1578.8,82.0 1573.9,83.1 1570.7,82.3 1568.0,82.5 1558.2,83.8 1555.5,83.5 1552.2,84.0 1550.4,84.8 1547.7,84.7 1544.4,85.3 1540.1,85.2 1537.2,85.9 1534.8,85.7 1532.2,86.8 1529.5,86.4 1527.2,86.7 1524.0,87.9 1521.8,87.7 1519.4,88.5 1516.2,88.5 1514.3,89.5 1511.0,89.6 1505.9,90.5 1504.2,91.3 1500.9,92.0 1498.8,92.0 1496.0,92.7 1491.1,95.1 1484.1,96.5 1478.8,97.2 1473.2,97.3 1471.1,98.2 1468.1,97.8 1465.2,98.5 1463.1,98.5 1460.5,98.1 1458.0,98.4 1455.5,97.9 1452.5,98.5 1447.3,98.4 1444.3,97.6 1439.4,98.5 1437.4,97.7 1434.7,98.3 1429.4,98.5 1423.8,99.8 1416.7,101.9 1414.0,101.5 1403.0,103.0 1400.8,102.8 1398.1,104.0 1395.8,103.3 1393.2,104.2 1390.2,103.9 1387.7,104.2 1385.7,104.0 1380.3,104.0 1377.6,104.8 1371.9,104.6 1369.5,104.8 1366.8,104.5 1365.0,105.3 1361.6,105.3 1359.0,104.9 1357.3,105.6 1354.2,105.3 1351.5,105.5 1348.8,104.8 1343.8,105.3 1339.0,105.0 1335.6,104.3 1333.0,104.4 1328.1,104.1 1325.8,104.2 1323.3,104.7 1320.1,104.8 1315.2,104.3 1312.5,104.8 1304.4,105.1 1301.7,105.1 1299.9,104.7 1297.3,105.4 1294.1,105.3 1286.2,106.2 1278.6,107.9 1276.0,107.9 1274.3,108.6 1271.3,108.4 1261.8,112.0 1259.1,112.6 1256.6,112.8 1251.3,113.1 1243.2,112.7 1238.3,113.0 1235.2,112.3 1233.1,112.9 1230.0,112.1 1227.6,112.4 1219.6,111.8 1217.3,112.4 1212.2,111.8 1209.1,111.9 1207.4,112.6 1204.5,112.6 1199.0,113.3 1196.8,112.8 1193.8,112.7 1191.6,113.8 1189.5,114.1 1186.8,115.2 1184.3,115.2 1173.8,116.3 1171.4,116.1 1166.2,116.2 1163.5,116.9 1160.9,116.3 1158.5,116.1 1150.7,116.7 1148.5,116.3 1142.9,116.9 1137.7,116.2 1135.7,123.1 1130.6,125.1 1128.3,124.3 1125.2,124.9 1123.1,124.2 1117.6,124.3 1115.7,124.6 1112.7,124.4 1107.6,125.1 1104.5,124.4 1096.8,124.7 1092.3,122.4 1087.5,120.9 1085.3,122.2 1083.0,123.2 1081.2,124.7 1075.3,132.9 1073.9,135.7 1073.0,138.6 1072.1,140.2 1070.2,145.1 1068.2,152.8 1066.2,157.8 1065.5,160.2 1064.1,163.0 1063.9,165.3 1062.7,167.5 1061.7,169.9 1061.9,172.7 1061.3,175.4 1058.3,182.4 1056.7,187.7 1053.6,191.7 1052.3,193.8 1051.4,196.7 1048.5,201.3 1048.1,203.5 1047.1,205.9 1045.8,208.1 1044.2,210.2 1044.0,212.6 1042.9,215.0 1042.0,218.2 1040.9,219.7 1039.4,224.7 1038.0,228.0 1037.6,230.4 1036.4,232.6 1035.8,235.0 1033.9,236.9 1032.6,239.1 1031.3,241.6 1030.5,244.3 1029.0,245.8 1028.1,248.8 1026.9,250.2 1023.9,254.9 1023.1,257.5 1021.1,259.7 1020.6,261.8 1016.2,269.4 1014.3,273.2 1012.1,275.7 1010.9,278.2 1007.8,281.9 1005.3,286.6 1003.3,288.3 1002.9,290.9 1001.7,296.3 1000.2,297.6 997.7,302.4 990.6,310.2 989.4,312.7 988.0,314.3 986.6,317.0 981.5,322.4 980.0,324.9 978.2,326.7 976.7,329.0 974.9,330.3 972.9,333.2 969.3,336.7 968.0,338.8 966.6,340.4 964.2,342.0 961.3,346.2 959.1,348.1 956.5,349.4 952.8,353.4 948.8,356.9 947.2,358.0 945.4,360.0 943.6,361.0 941.4,363.0 936.5,365.9 934.6,368.1 930.7,371.4 928.8,372.6 927.3,374.5 922.5,377.8 921.3,379.8 912.9,386.0 909.2,389.6 904.6,392.2 900.5,395.1 897.2,396.0 894.9,397.0 893.3,398.2 890.2,398.9 886.0,401.4 883.3,402.3 880.8,403.7 879.2,403.9 877.0,408.3 874.4,410.2 870.4,411.5 862.7,415.2 860.6,415.7 857.6,416.7 856.2,418.2 852.9,418.8 850.9,419.9 848.2,420.8 846.3,422.5 844.1,423.5 841.7,423.9 829.7,428.8 826.5,429.4 824.7,430.4 819.8,431.8 811.3,433.1 808.8,433.8 806.9,434.9 799.0,437.0 796.4,441.2 793.7,441.1 791.0,441.8 783.3,441.6 780.3,441.8 778.0,442.4 775.6,442.2 772.6,442.4 770.4,442.9 767.4,443.0 765.5,443.5 762.9,443.6 759.6,444.2 757.7,443.9 749.5,446.0 746.7,446.2 744.5,446.6 742.0,447.7 737.0,448.4 729.6,450.8 724.0,450.8 721.9,451.7 719.4,452.3 716.6,452.7 714.1,452.8 709.1,453.8 703.5,454.2 701.5,455.0 698.9,455.1 696.3,455.5 693.4,455.2 688.4,456.3 683.2,456.8 680.6,456.8 677.9,457.4 675.3,457.3 669.7,458.6 664.8,459.2 662.1,458.7 659.9,459.5 657.0,459.5 651.9,460.2 649.2,460.0 647.3,460.2 644.7,461.1 641.6,461.4 634.3,461.1 628.9,461.8 626.1,462.6 623.8,461.9 620.7,462.6 618.5,462.3 616.1,463.3 613.6,462.9 610.3,463.6 608.0,463.2 604.9,463.4 602.9,464.0 600.0,464.4 594.9,464.1 592.2,464.7 589.7,464.3 587.1,465.1 584.7,464.4 578.9,465.5 577.2,464.8 571.3,465.2 568.5,465.8 566.3,465.9 561.0,465.6 558.8,466.2 556.3,465.8 553.0,466.7 550.9,466.0 548.4,466.1 545.7,466.7 543.2,466.3 540.8,467.2 538.3,467.2 535.0,467.5 530.2,466.9 527.8,467.4 524.5,467.2 520.1,467.4 516.9,467.9 514.0,467.3 512.1,467.4 509.3,468.2 506.7,467.5 501.9,468.2 496.0,468.4 491.3,468.1 488.6,468.7 483.0,469.1 480.5,468.8 478.5,469.1 475.4,468.5 472.9,468.9 469.8,468.8 462.4,469.5 459.8,468.7 455.1,469.1 451.9,469.8 449.1,469.5 447.3,469.8 443.9,469.4 441.4,469.7 438.8,469.3 436.2,469.3 423.1,470.0 420.7,469.5 417.8,470.3 413.4,469.6 410.1,469.8 405.7,469.7 402.7,470.4 397.4,470.0 392.4,470.4 390.1,470.1 386.7,470.8 384.4,470.5 370.9,470.9 368.9,470.1 366.5,470.7 363.2,471.0 358.9,470.4 355.5,471.1 350.3,471.1 345.5,470.7 339.8,471.3 337.9,470.6 329.6,471.2 326.9,471.2 325.6,470.8 325.6,485.7 327.6,485.9 329.8,485.7 335.0,486.3 337.5,485.5 340.5,486.1 342.8,486.1 344.9,485.9 347.5,486.2 360.7,485.9 366.4,486.7 374.4,486.4 376.0,486.0 378.9,486.6 381.8,486.7 383.8,486.3 387.0,486.7 389.5,486.3 391.9,486.9 397.8,486.2 399.7,486.6 402.8,486.8 405.3,487.2 407.6,486.5 410.2,486.9 412.6,486.4 415.8,487.4 418.6,486.8 420.7,487.3 423.8,486.9 426.4,487.3 430.6,487.0 433.8,487.5 444.2,487.4 447.1,487.1 449.7,487.7 454.4,487.6 457.1,487.9 459.7,487.8 462.0,487.3 465.1,488.3 470.0,488.1 475.3,488.3 480.7,487.7 483.6,488.3 486.2,487.9 493.5,488.5 496.1,488.2 498.9,488.3 501.1,489.0 508.8,489.4 517.0,488.7 522.3,489.5 524.8,488.9 530.1,489.7 538.2,490.2 540.6,489.8 548.5,490.3 551.1,489.8 553.8,490.8 555.9,490.9 558.2,490.4 564.1,491.3 569.0,490.8 571.9,491.2 573.6,491.2 576.9,491.7 579.0,491.6 584.0,492.2 594.7,491.9 597.2,492.6 600.1,492.6 602.7,493.2 605.6,492.6 607.9,493.5 613.2,493.5 618.1,494.1 620.9,493.8 623.6,494.3 631.1,494.4 633.9,495.1 636.5,494.7 638.5,495.5 641.4,495.5 649.3,496.4 652.1,495.7 657.6,496.1 662.3,497.1 665.3,497.2 667.7,498.1 672.2,498.4 675.6,498.0 678.2,498.6 680.2,499.4 682.9,499.1 685.4,500.0 688.6,499.8 690.7,500.3 693.7,500.0 696.2,501.2 698.4,501.0 701.5,501.3 701.9,503.3 699.7,504.2 697.8,506.2 697.2,508.8 697.6,511.5 699.0,513.6 701.0,514.9 703.4,515.3 706.4,515.0 708.8,515.8 711.1,515.4 714.3,515.4 719.2,516.0 724.3,516.1 727.3,515.4 729.8,516.2 732.4,516.4 737.4,515.8 742.8,516.4 745.4,515.8 747.4,516.6 750.6,516.0 755.3,516.9 757.9,516.9 761.0,516.6 763.6,516.8 768.2,516.3 771.7,517.1 774.1,516.4 776.5,517.1 781.8,516.5 784.2,517.0 789.2,518.7 792.2,519.2 794.4,519.8 793.9,522.7 794.7,524.9 799.0,527.6 802.3,527.6 804.5,528.1 807.2,528.1 809.8,528.6 812.6,528.4 814.8,527.0 815.9,525.6 818.4,525.3 821.6,525.6 823.9,526.4 826.3,527.7 836.4,529.8 845.9,533.7 848.8,534.3 854.0,535.7 855.7,536.7 858.8,537.9 861.0,538.3 870.8,542.3 873.3,542.4 875.7,543.9 878.0,544.1 880.3,545.7 882.6,545.8 885.7,547.6 890.5,549.0 892.8,550.2 894.9,550.6 897.7,551.9 902.3,553.3 907.3,556.0 909.2,556.2 912.2,557.3 914.0,558.9 916.5,559.4 919.5,560.8 923.7,562.1 926.6,563.6 928.5,564.3 930.1,566.1 928.2,567.8 927.8,570.4 928.6,572.9 929.9,575.0 935.0,576.0 940.1,575.8 945.4,577.0 950.3,576.9 952.7,576.4 955.6,577.5 958.1,579.6 960.1,579.9 961.9,581.7 968.5,585.7 971.0,586.8 973.3,588.6 975.9,589.5 977.4,591.1 981.7,594.8 983.8,595.8 985.8,597.1 987.9,599.0 994.8,603.2 996.4,605.7 998.2,606.4 1000.5,608.6 1002.4,609.9 1006.4,613.6 1008.8,615.2 1010.3,617.0 1012.4,618.2 1014.7,620.0 1016.5,622.0 1020.4,625.6 1021.7,627.7 1024.2,629.2 1026.2,631.2 1028.0,632.5 1029.9,634.9 1031.8,636.3 1033.2,638.7 1035.2,639.9 1036.6,642.4 1038.8,643.4 1039.5,646.0 1038.3,648.2 1040.3,653.1 1042.4,653.6 1045.5,655.3 1047.7,655.8 1049.7,655.2 1057.2,663.6 1058.7,664.7 1060.2,666.9 1066.1,673.0 1070.7,678.8 1074.9,682.5 1077.9,686.1 1079.7,689.0 1084.8,694.4 1086.1,696.6 1089.7,700.2 1092.9,704.6 1094.7,706.1 1095.6,708.4 1097.4,710.9 1100.9,714.4 1102.7,716.7 1103.8,719.0 1106.0,720.8 1106.8,723.0 1115.0,733.5 1116.2,736.2 1117.2,737.4 1118.7,740.4 1120.6,742.4 1123.6,746.3 1126.2,751.2 1128.2,752.8 1130.9,757.8 1131.6,759.7 1131.0,762.5 1131.6,764.6 1133.5,766.1 1136.5,767.7 1141.4,773.2 1142.1,775.2 1144.0,777.4 1144.8,779.6 1147.5,784.1 1152.2,790.5 1154.6,795.2 1157.7,799.9 1158.4,802.3 1159.6,804.5 1161.3,806.2 1162.8,808.3 1163.4,810.7 1165.1,813.4 1166.2,815.6 1169.2,819.8 1170.2,822.6 1171.8,825.0 1173.8,829.4 1175.7,831.5 1176.4,833.9 1180.1,840.3 1181.1,843.3 1182.9,845.0 1184.5,847.0 1185.1,850.0 1187.0,852.2 1187.5,854.2 1188.6,856.0 1190.7,858.2 1191.2,860.6 1193.1,863.4 1193.9,865.4 1196.0,867.5 1196.4,870.1 1197.7,872.3 1199.1,874.0 1201.8,878.7 1203.5,881.1 1203.8,883.6 1207.4,887.5 1208.6,890.2 1209.0,892.1 1210.9,894.8 1211.8,896.8 1213.7,899.6 1215.4,903.8 1217.2,906.2 1218.0,908.9 1219.8,911.3 1221.8,915.2 1222.5,917.6 1224.0,920.6 1225.2,922.3 1227.5,927.3 1228.0,929.4 1228.9,931.9 1232.6,939.3 1233.2,941.3 1234.4,943.6 1234.8,946.6 1235.9,949.2 1238.5,953.4 1238.8,956.2 1240.3,958.2 1241.3,963.7 1242.8,965.8 1243.5,968.8 1246.6,975.2 1250.1,985.5 1250.5,988.1 1254.1,995.3 1254.2,997.8 1256.0,1000.1 1258.9,1007.4 1259.2,1010.0 1260.6,1011.7 1261.0,1014.0 1262.5,1016.5 1262.9,1019.5 1263.9,1021.5 1264.6,1023.7 1267.3,1028.5 1267.6,1031.1 1269.1,1034.1 1269.2,1035.9 1270.1,1039.0 1271.6,1041.3 1272.3,1043.6 1275.1,1050.7 1275.5,1053.9 1277.1,1056.2 1278.8,1061.0 1279.7,1065.6 1281.3,1068.2 1281.8,1070.7 1283.1,1072.8 1284.0,1077.6 1285.6,1080.0 1287.3,1082.1 1289.4,1083.8 1291.6,1084.0 1296.9,1083.0 1298.6,1081.1 1300.0,1078.7 1300.9,1075.7 1300.9,1073.5 1299.6,1070.8 1299.5,1069.1 1298.2,1065.9 1296.9,1060.7 1295.2,1058.6 1294.8,1055.8 1293.7,1054.4 1293.4,1051.0 1291.9,1046.3 1290.3,1044.2 1289.6,1041.4 1287.7,1037.0 1287.2,1034.5 1285.4,1029.1 1283.9,1027.0 1282.5,1022.6 1280.2,1017.3 1279.7,1014.8 1278.3,1012.6 1277.8,1010.0 1273.7,1000.1 1273.5,998.3 1272.1,995.2 1271.0,993.4 1269.6,988.1 1268.2,986.1 1267.6,982.8 1266.9,980.8 1265.2,978.8 1263.9,973.3 1263.2,971.2 1261.4,968.8 1260.4,966.8 1260.1,963.7 1258.4,958.7 1256.9,956.9 1256.7,953.9 1254.3,949.7 1252.8,944.0 1251.3,941.6 1250.3,937.5 1249.1,934.6 1247.7,932.5 1246.7,930.1 1246.1,927.1 1245.1,924.7 1243.6,923.2 1242.0,917.8 1237.9,911.1 1237.3,908.9 1235.8,906.5 1234.6,903.8 1232.9,899.1 1231.0,897.4 1230.4,894.4 1228.7,892.4 1227.1,890.0 1226.6,888.1 1222.2,881.5 1220.2,876.9 1217.5,871.7 1216.1,869.8 1212.3,862.9 1210.5,860.5 1209.8,858.6 1208.3,856.4 1207.1,853.8 1205.6,851.9 1205.0,849.6 1203.0,847.3 1202.0,845.3 1200.2,842.8 1198.3,837.5 1194.3,831.3 1193.0,828.5 1191.4,826.9 1188.3,819.6 1186.3,817.4 1184.7,812.8 1182.6,810.9 1179.3,803.6 1178.0,801.3 1176.7,799.9 1174.0,794.6 1172.5,793.0 1170.9,790.6 1168.5,785.8 1167.1,783.8 1166.4,781.6 1164.8,779.4 1162.8,777.3 1161.8,775.1 1158.8,770.1 1156.2,766.6 1155.0,764.0 1153.6,761.7 1151.6,759.8 1150.8,757.6 1148.1,752.6 1143.3,746.3 1141.1,741.9 1137.3,738.0 1136.2,735.6 1134.5,733.7 1130.8,727.4 1128.6,725.1 1126.9,723.0 1125.6,720.9 1124.5,718.3 1123.1,716.2 1119.2,712.4 1116.8,708.1 1113.2,703.7 1112.1,701.7 1110.4,700.1 1106.8,695.5 1101.7,690.1 1100.0,687.6 1098.5,686.4 1097.4,683.8 1095.7,681.8 1093.4,680.3 1091.5,678.3 1090.7,675.6 1088.9,674.3 1086.4,672.0 1083.3,668.0 1076.7,660.8 1074.8,658.3 1072.6,656.8 1071.3,654.3 1069.5,653.1 1067.9,650.6 1066.3,648.8 1063.7,646.6 1062.9,644.7 1060.9,642.7 1058.8,641.1 1056.9,639.0 1055.1,637.8 1053.4,635.3 1051.9,634.2 1044.8,626.6 1040.3,623.2 1038.7,621.2 1036.5,619.1 1035.2,617.3 1032.7,615.6 1031.5,613.8 1027.8,609.8 1023.4,607.2 1021.2,605.1 1019.4,603.8 1017.9,601.4 1015.3,599.5 1013.3,598.7 1012.0,596.9 1005.1,591.5 1001.9,588.2 999.8,586.8 995.3,584.4 988.6,579.4 986.2,577.9 982.6,574.9 979.7,573.3 977.4,572.6 975.7,571.0 973.4,570.1 971.1,568.2 969.2,567.4 967.1,566.0 964.2,564.8 962.6,562.9 960.2,562.3 955.7,559.8 953.3,557.8 950.4,556.7 948.3,555.5 946.1,555.2 944.2,553.2 941.5,552.2 939.3,551.0 933.7,549.5 931.5,548.6 929.9,547.3 927.0,546.8 924.5,545.7 922.5,543.8 919.6,543.5 917.0,542.7 915.4,541.6 910.5,539.4 907.7,538.7 905.3,537.3 900.4,535.9 896.0,533.7 893.0,533.3 886.1,530.4 883.2,528.9 881.4,528.8 873.7,526.0 870.9,524.5 869.2,524.4 865.9,523.5 864.1,522.1 858.7,520.4 856.5,520.0 854.0,518.7 846.2,517.1 838.8,514.2 836.5,514.0 834.0,513.4 831.1,512.1 828.6,512.0 824.2,510.0 822.0,510.1 818.7,508.6 806.3,506.4 803.8,504.9 796.4,503.9 794.1,503.4 791.3,502.3 785.9,501.3 783.4,500.6 778.1,499.9 775.4,499.0 773.0,498.9 770.5,497.8 768.5,497.6 766.0,496.9 760.2,496.5 755.6,495.2 752.6,495.1 750.4,494.1 747.5,493.4 745.6,493.7 740.3,492.3 734.9,491.6 732.4,491.0 729.6,491.0 722.6,489.1 714.6,488.8 709.2,487.9 706.7,487.3 701.5,486.8 696.2,486.8 693.6,486.0 691.1,486.2 680.4,485.3 672.7,483.9 664.9,483.2 662.6,483.7 657.1,483.3 655.3,483.3 650.2,482.1 647.4,482.5 641.5,481.5 639.5,481.5 637.2,481.1 634.5,481.3 626.1,480.5 618.4,480.8 615.8,479.9 612.9,479.8 610.4,480.1 608.3,479.3 606.1,479.9 603.1,479.9 600.4,479.0 598.1,479.7 595.6,478.9Z" fill="#de4a49" stroke="#de4a49" stroke-width="0.6" stroke-linejoin="round"/>
<path id="green" d="M583.1,370.5 588.3,369.9 591.4,369.9 596.0,368.9 598.6,368.8 602.0,369.1 606.3,368.4 612.1,368.8 617.1,368.3 622.1,368.2 624.4,367.8 630.1,367.5 632.9,367.1 635.7,366.4 640.7,366.5 646.1,365.9 648.7,365.2 650.9,365.7 653.3,365.0 656.3,365.5 658.5,364.6 661.6,365.0 664.1,364.9 669.0,364.1 671.5,364.1 674.7,363.7 676.6,363.8 679.5,363.3 682.1,363.2 684.8,362.5 692.6,362.4 694.6,361.4 697.7,361.2 700.5,361.6 704.8,361.1 708.2,360.1 710.8,360.1 712.9,360.6 715.8,359.7 718.6,359.2 720.9,359.3 723.7,358.6 725.7,358.8 728.0,358.5 731.4,359.0 736.7,358.9 739.0,359.3 741.8,359.5 745.6,356.4 747.1,354.6 750.0,353.5 752.2,352.1 754.5,351.4 757.4,351.0 759.4,349.8 761.8,349.2 764.1,348.8 766.9,347.2 769.3,347.3 771.7,346.0 774.8,345.4 776.6,343.9 782.0,342.4 784.5,341.9 787.0,340.6 789.0,340.2 791.9,340.2 794.6,339.7 797.1,339.8 799.8,339.7 802.4,340.6 804.3,340.4 810.3,341.4 812.6,340.6 815.5,341.4 817.3,340.9 820.4,340.7 822.9,339.4 826.5,335.9 828.4,334.9 838.6,336.2 841.7,335.8 844.1,336.2 846.6,336.0 848.1,333.8 852.2,329.9 853.2,328.5 858.2,325.5 861.7,322.2 868.8,318.2 870.8,316.6 872.4,314.3 874.9,313.7 877.1,311.5 879.0,310.3 882.0,309.2 884.4,308.8 886.7,307.8 888.6,306.0 890.9,304.7 893.9,303.7 898.1,301.5 902.4,298.6 904.6,297.9 907.5,295.7 909.5,294.9 910.8,292.8 915.7,289.9 917.8,288.2 918.9,286.6 921.2,284.4 923.5,283.5 925.6,281.6 927.3,279.5 929.7,278.4 933.7,274.9 935.1,274.0 937.1,271.8 939.7,270.1 941.7,269.4 944.2,267.7 945.7,266.1 948.0,264.6 949.9,262.9 949.8,254.8 951.6,254.4 954.2,254.3 957.2,253.8 958.5,252.0 960.3,250.5 961.8,248.7 963.2,246.5 964.9,244.7 966.5,242.6 969.7,237.8 971.6,236.5 976.2,230.1 978.4,228.4 980.5,225.8 982.1,224.6 984.0,222.5 989.1,216.3 990.0,214.1 993.0,213.8 995.2,214.3 997.7,214.4 1000.4,213.8 1002.8,213.9 1008.0,214.6 1013.6,214.6 1016.4,213.9 1019.0,213.9 1021.0,214.5 1023.4,214.7 1026.8,213.7 1029.0,214.0 1030.2,212.0 1031.1,209.6 1031.5,207.2 1031.2,204.1 1030.3,201.8 1032.7,201.5 1035.8,200.6 1039.6,197.0 1039.9,194.7 1039.6,191.9 1038.6,189.7 1036.3,188.7 1034.1,187.1 1031.8,187.5 1029.3,187.4 1023.8,187.9 1021.1,187.2 1018.4,187.3 1013.3,188.0 1010.6,188.0 1008.6,186.6 1010.9,181.8 1011.5,179.7 1013.7,175.4 1015.6,172.9 1017.6,167.7 1020.2,164.1 1023.2,162.1 1025.2,161.4 1029.3,158.3 1031.7,157.5 1034.0,156.0 1041.7,154.8 1044.1,153.3 1045.6,149.0 1046.1,146.7 1046.1,144.3 1047.7,141.6 1045.8,140.5 1043.9,139.7 1042.0,138.4 1040.6,136.0 1041.8,133.9 1042.0,131.5 1043.8,128.8 1048.3,127.2 1050.5,125.9 1058.9,125.2 1060.8,125.7 1063.3,125.3 1066.3,125.7 1071.6,124.8 1074.5,125.4 1077.1,124.9 1079.3,125.3 1084.7,125.2 1086.7,125.1 1089.7,124.4 1091.9,125.1 1094.8,124.4 1097.3,124.9 1099.7,124.3 1102.8,125.1 1105.4,125.1 1107.7,124.5 1110.3,124.5 1112.8,125.0 1115.5,124.6 1118.2,125.2 1120.7,124.9 1123.3,125.0 1126.0,124.2 1128.7,124.5 1131.0,124.5 1133.4,124.9 1135.4,123.3 1136.5,118.1 1137.7,115.5 1139.4,114.8 1142.2,115.2 1145.1,115.2 1147.7,114.4 1152.4,114.6 1155.6,114.0 1158.0,113.9 1160.8,114.2 1165.5,113.6 1168.5,113.6 1171.4,114.0 1176.6,112.9 1179.0,113.0 1181.7,112.6 1183.8,111.5 1185.8,110.8 1187.0,105.4 1188.2,103.7 1193.5,104.1 1196.4,103.6 1198.7,103.8 1203.3,103.3 1206.3,103.4 1208.5,103.8 1210.9,103.5 1213.6,103.8 1217.0,103.4 1219.1,102.2 1220.7,100.4 1223.4,99.2 1225.8,99.2 1233.8,99.8 1235.6,99.1 1238.2,99.6 1241.1,99.9 1249.1,99.6 1254.5,98.6 1256.9,97.7 1259.3,97.7 1261.7,97.0 1264.9,97.7 1267.0,97.4 1269.8,97.8 1272.3,97.5 1275.2,96.8 1277.6,97.6 1285.1,97.2 1288.2,96.5 1293.5,95.9 1297.6,94.5 1300.6,94.1 1302.7,93.3 1308.2,92.3 1310.4,92.3 1313.7,92.9 1316.3,91.9 1319.0,92.5 1321.6,92.3 1326.4,91.4 1332.1,91.9 1334.6,91.2 1337.1,91.9 1339.4,91.3 1342.1,91.5 1344.6,91.2 1347.4,91.7 1354.9,91.1 1357.5,90.6 1359.9,91.4 1368.0,90.7 1370.6,89.5 1372.8,88.9 1375.4,89.1 1378.2,88.9 1380.6,88.7 1383.2,87.7 1385.9,87.3 1388.5,87.6 1390.8,86.9 1393.4,87.3 1401.2,86.3 1407.2,85.9 1409.0,86.4 1414.8,85.5 1417.6,85.8 1422.4,85.8 1425.1,84.9 1427.7,85.0 1430.3,85.6 1432.9,85.3 1435.2,84.3 1437.5,84.2 1443.0,84.5 1448.6,84.4 1453.5,83.3 1455.6,83.9 1458.4,83.7 1461.2,82.7 1464.2,83.2 1471.5,82.3 1474.5,82.7 1477.2,82.5 1479.5,81.9 1482.1,82.1 1484.5,81.1 1487.2,81.5 1490.2,81.6 1492.7,81.4 1497.8,81.4 1500.7,80.5 1502.5,81.2 1505.6,80.1 1508.4,79.7 1510.6,79.8 1513.0,79.4 1528.4,79.2 1534.2,78.2 1536.6,78.2 1539.6,78.5 1541.4,79.0 1547.3,78.5 1549.5,77.7 1551.7,77.7 1552.5,75.4 1555.7,75.5 1558.2,74.7 1560.9,74.7 1563.5,75.3 1566.2,75.5 1568.3,74.9 1571.3,74.7 1573.1,73.9 1574.7,72.0 1576.8,67.6 1576.2,64.9 1574.5,62.5 1572.4,60.8 1569.2,60.2 1566.8,60.1 1559.3,60.8 1554.0,60.3 1552.8,58.4 1556.3,56.7 1559.3,57.3 1564.7,57.1 1567.1,56.8 1569.9,56.8 1574.8,57.4 1578.0,56.9 1580.1,57.8 1583.1,57.2 1585.2,57.6 1587.6,56.9 1590.7,57.4 1592.0,55.6 1592.3,52.6 1591.8,50.5 1591.7,47.9 1590.2,46.4 1587.6,45.7 1585.0,46.1 1581.9,45.7 1579.4,45.8 1576.7,46.5 1574.9,46.6 1568.8,45.8 1566.9,46.2 1564.1,46.4 1558.3,46.2 1556.5,46.5 1554.1,46.2 1551.7,44.6 1546.9,45.2 1543.5,44.4 1538.5,45.8 1536.4,46.6 1533.6,46.7 1526.2,48.9 1523.9,48.8 1521.5,49.8 1518.3,49.8 1516.2,50.7 1513.6,50.9 1511.2,52.3 1508.4,52.5 1506.4,54.0 1503.1,54.4 1501.1,55.3 1498.3,59.7 1498.1,62.5 1495.1,67.0 1490.3,67.2 1488.0,68.4 1484.8,68.1 1482.2,68.1 1480.0,68.4 1476.8,68.4 1474.8,69.0 1471.6,69.1 1464.1,69.8 1461.6,69.2 1453.9,70.1 1443.1,70.0 1441.0,70.4 1438.4,70.4 1435.6,71.1 1433.5,70.3 1428.1,71.3 1425.0,70.8 1420.5,71.4 1418.0,71.3 1414.4,71.6 1412.0,71.0 1409.6,71.1 1406.7,71.7 1404.9,71.4 1401.8,72.0 1397.1,71.7 1391.8,72.2 1389.2,72.6 1387.1,73.3 1384.1,73.3 1376.6,74.7 1373.3,74.3 1371.4,74.8 1365.9,74.3 1360.4,75.1 1358.5,76.1 1353.4,76.3 1345.0,77.6 1343.0,77.8 1340.3,77.4 1337.6,77.9 1332.0,78.0 1329.7,78.9 1324.4,78.6 1318.9,79.2 1316.4,78.9 1314.2,79.4 1306.4,79.6 1295.8,80.2 1293.8,80.6 1291.2,80.6 1285.7,81.4 1282.5,81.5 1279.9,81.3 1275.6,82.5 1272.6,82.3 1269.8,82.5 1267.7,83.6 1264.5,83.7 1259.7,84.7 1257.1,84.2 1246.8,85.1 1243.9,84.6 1241.8,85.1 1236.2,85.5 1233.8,86.1 1230.9,85.9 1228.6,86.5 1225.9,86.0 1221.3,86.6 1217.7,86.7 1215.2,86.4 1210.1,87.0 1207.5,87.1 1205.6,86.8 1197.3,86.3 1192.6,86.5 1186.7,86.0 1179.7,87.4 1176.4,87.7 1174.2,88.2 1169.1,88.3 1164.6,91.2 1161.4,91.8 1159.1,91.7 1156.3,91.3 1151.6,91.7 1148.4,91.1 1144.0,91.1 1141.2,90.8 1130.7,91.4 1128.5,91.4 1125.7,90.8 1122.6,90.5 1119.8,91.3 1117.2,90.7 1114.9,90.8 1109.8,91.5 1106.9,92.5 1101.9,93.3 1099.9,93.1 1096.8,94.0 1094.0,94.3 1092.3,95.3 1089.9,95.4 1086.4,95.9 1084.1,96.7 1082.5,98.5 1080.1,99.6 1077.9,101.8 1076.3,102.8 1074.0,103.8 1071.7,103.7 1068.8,104.0 1065.8,103.8 1061.0,104.7 1058.8,104.2 1056.2,104.6 1053.4,104.7 1046.2,108.9 1040.4,113.4 1030.9,116.6 1028.9,118.2 1027.4,120.5 1024.6,125.8 1025.3,130.3 1024.6,133.5 1027.2,137.5 1027.0,140.2 1024.2,140.8 1019.5,142.5 1016.6,144.0 1014.8,145.2 1011.9,149.0 1009.9,150.5 1008.1,153.3 1004.9,157.1 1004.0,159.1 999.2,166.2 997.5,171.0 995.1,175.4 993.5,176.9 991.6,179.1 990.0,181.4 989.1,183.5 987.0,185.9 986.1,187.5 982.8,188.5 981.2,190.2 980.0,192.5 979.3,194.9 979.4,197.4 975.7,201.0 973.1,201.4 972.1,203.7 970.3,205.7 970.5,208.2 969.4,211.2 968.0,213.1 967.0,215.2 965.1,216.9 963.9,219.8 962.3,221.2 959.3,226.0 954.1,232.2 952.9,233.9 948.2,236.7 942.3,242.1 940.5,243.4 938.7,245.9 937.1,247.3 932.6,250.6 929.2,254.1 926.7,255.5 925.2,258.0 922.8,259.3 921.1,260.9 919.8,262.8 917.2,264.4 915.9,266.5 911.4,269.1 909.9,270.8 907.1,272.3 905.8,274.7 903.4,275.9 901.2,277.3 899.4,279.0 897.4,278.9 892.7,281.4 887.5,283.1 885.7,284.6 882.5,285.8 881.1,287.3 878.8,288.3 875.7,289.1 873.9,290.3 871.1,290.8 869.3,292.5 866.9,293.2 862.0,295.7 859.1,296.5 857.6,298.6 854.9,299.8 847.7,302.6 840.4,306.1 838.0,306.1 833.4,308.5 830.6,309.2 828.7,310.9 824.0,312.7 822.0,314.4 817.1,316.7 814.5,317.2 812.7,318.4 810.3,318.7 807.7,319.4 805.1,320.6 801.9,320.9 799.7,321.8 797.2,321.9 792.4,324.2 790.2,324.3 787.7,325.5 785.0,326.1 778.0,329.3 774.6,330.4 772.3,330.6 770.2,332.0 767.3,332.0 764.7,332.5 762.5,333.6 760.1,333.6 757.4,334.5 747.8,336.7 744.6,337.0 740.0,337.9 737.5,338.0 731.6,339.4 728.9,339.5 727.2,340.3 724.1,340.4 719.1,341.4 716.3,342.4 714.5,343.4 712.0,343.4 708.7,344.7 706.7,344.7 701.8,346.3 698.8,345.9 696.3,346.1 690.9,347.0 688.3,347.9 686.2,347.7 683.8,348.8 681.3,348.5 675.9,349.7 672.7,350.2 667.9,350.4 662.8,351.0 660.4,350.9 657.2,351.2 654.6,352.1 652.1,351.9 650.1,352.2 647.7,353.1 644.6,353.0 642.4,353.6 639.7,353.3 631.6,354.3 626.3,353.9 616.1,355.7 613.7,355.8 610.6,355.1 607.9,356.1 605.8,356.1 603.2,356.5 600.9,356.2 597.7,356.3 595.3,356.4 593.0,357.0 590.6,356.5 585.3,357.4 582.8,357.1 577.1,357.2 572.2,358.2 569.5,358.3 567.2,358.1 564.4,358.2 561.5,358.5 559.2,358.3 551.3,359.2 549.1,358.5 545.8,359.2 541.0,359.7 533.5,359.4 530.2,359.9 527.5,359.7 525.7,360.1 522.9,359.4 520.6,359.9 517.3,359.6 514.5,359.7 509.5,360.6 506.7,360.3 504.8,360.8 498.9,360.5 496.9,361.0 494.2,361.2 491.5,361.2 489.3,360.6 485.9,361.5 483.5,361.0 481.0,361.5 475.8,360.8 473.2,361.7 470.2,361.1 468.2,361.5 462.5,361.4 457.6,361.9 455.2,361.4 452.4,362.2 444.3,362.1 442.4,361.5 439.9,361.6 436.4,362.4 434.3,361.7 429.6,362.7 426.8,362.3 421.0,362.6 415.6,362.1 413.5,362.8 411.2,362.2 405.4,362.5 403.2,363.1 400.1,362.5 392.2,363.2 379.8,362.7 374.6,363.4 371.7,363.2 368.8,363.4 364.2,363.2 361.3,363.4 358.5,363.3 355.8,363.4 348.6,363.2 346.1,362.9 343.1,362.9 338.3,363.6 335.0,363.5 333.1,363.8 329.8,363.0 327.6,363.7 325.6,363.9 325.6,378.7 326.5,379.0 329.4,378.9 332.2,378.3 336.8,378.9 339.6,378.8 341.9,379.1 344.9,378.8 347.6,379.1 349.7,378.5 353.0,378.9 355.6,378.6 358.3,378.7 360.7,379.3 365.6,378.5 367.8,379.4 370.9,378.5 381.7,379.4 384.2,378.8 386.2,379.5 388.9,378.9 391.4,379.0 394.4,379.6 397.0,379.5 399.6,379.8 401.8,379.2 405.1,379.8 407.4,379.8 409.9,379.3 417.9,379.3 419.7,379.4 423.1,380.1 425.2,380.2 430.8,379.8 433.5,380.3 435.8,379.7 438.8,380.2 440.9,379.8 448.8,380.7 451.5,380.7 453.6,379.9 457.0,380.6 459.0,380.1 461.4,380.3 464.8,380.3 466.8,381.0 469.3,380.4 472.5,381.1 475.2,380.4 477.2,381.0 482.3,381.1 484.9,380.7 488.1,381.3 490.5,381.1 493.2,381.7 495.5,380.9 498.0,381.7 500.6,381.8 505.9,381.7 511.4,382.1 513.7,381.5 516.7,381.6 518.9,382.4 522.1,382.4 523.8,382.8 526.4,381.9 529.6,382.9 532.1,382.9 534.7,382.3 537.3,383.0 539.8,383.1 542.4,382.6 547.3,382.8 550.0,383.2 555.3,383.0 560.2,383.4 563.5,384.2 566.3,384.3 568.4,384.0 571.1,384.4 574.1,384.2 576.6,385.0 579.2,384.8 581.5,385.3 583.9,385.2 586.1,384.8 591.4,385.7 594.4,385.2 599.9,386.3 602.4,385.7 605.1,385.8 607.2,386.5 609.8,386.3 612.5,387.0 615.1,386.4 620.3,387.7 625.7,387.6 628.0,387.8 630.3,387.6 635.4,388.3 638.1,389.1 641.0,388.4 643.8,389.3 646.7,389.0 648.6,389.7 651.5,389.8 654.4,390.4 656.1,390.1 659.6,389.9 661.6,390.9 672.0,391.2 674.9,391.7 677.2,392.5 680.1,393.0 682.1,392.8 685.2,393.3 690.6,393.6 692.9,394.5 695.9,394.4 698.3,394.9 703.5,395.0 706.2,395.9 708.3,395.8 711.0,396.2 715.7,397.5 718.7,397.4 721.3,398.2 723.7,398.6 724.0,400.4 721.4,399.9 717.0,403.7 716.1,405.3 716.6,407.9 717.6,410.5 720.5,412.0 723.0,412.6 725.1,412.0 727.3,412.8 730.5,412.5 735.3,412.7 738.4,411.9 743.7,412.5 746.4,411.7 748.8,411.9 751.5,411.7 754.1,412.5 756.4,412.0 759.1,412.3 761.2,412.2 767.1,411.4 769.0,411.9 772.2,411.4 785.4,411.3 787.2,412.4 792.5,413.3 794.9,414.3 802.8,416.0 804.9,416.9 807.7,416.7 810.4,417.4 812.8,418.8 814.9,418.9 817.3,420.2 820.4,421.2 822.5,421.1 825.3,422.6 827.9,423.0 829.9,424.0 832.9,424.3 835.3,425.6 839.9,426.6 842.1,428.2 844.7,429.1 849.7,430.6 852.2,430.9 854.5,431.8 856.8,433.2 860.1,434.0 861.6,435.0 864.9,435.8 867.2,436.1 869.3,437.1 871.6,437.7 876.9,439.6 879.6,441.2 884.3,442.4 888.5,445.1 891.5,445.9 893.4,447.2 896.1,447.5 898.1,449.2 900.8,450.0 905.5,452.0 910.1,455.2 912.6,456.0 917.5,458.6 919.0,459.2 923.8,462.2 926.4,463.1 927.9,464.7 934.5,468.5 941.9,473.6 943.6,474.3 948.1,477.4 950.5,478.8 954.5,481.7 956.9,483.0 960.7,486.5 963.0,488.0 967.3,490.1 969.6,491.8 973.4,495.1 975.7,496.3 978.0,498.4 980.0,499.2 982.1,500.7 983.9,503.0 979.6,503.2 976.9,505.1 975.0,507.3 974.7,509.3 976.4,513.9 979.1,515.3 981.9,515.5 984.5,516.0 986.7,516.2 989.0,516.1 991.5,516.6 994.3,516.1 1000.1,516.7 1004.7,517.9 1008.7,520.3 1009.2,522.3 1007.0,523.2 1004.4,522.9 1001.7,524.1 1000.3,526.2 1000.0,529.2 1000.5,531.7 1001.8,533.1 1004.7,534.4 1006.7,534.6 1009.7,535.3 1012.0,534.6 1015.1,535.2 1017.3,535.1 1019.9,535.5 1023.0,535.3 1025.7,535.5 1027.4,536.6 1033.1,542.5 1034.2,544.4 1031.9,545.6 1030.4,548.2 1030.5,550.5 1031.7,552.7 1033.3,554.7 1036.0,554.6 1038.2,555.1 1041.3,555.0 1043.6,555.6 1046.6,555.0 1048.8,556.5 1050.6,559.1 1051.7,561.1 1054.3,562.1 1059.1,568.2 1064.6,573.6 1066.5,576.0 1067.1,577.4 1062.0,577.9 1059.0,577.3 1053.8,577.1 1051.6,577.3 1049.0,579.4 1048.1,583.6 1048.7,586.9 1053.4,588.7 1056.3,589.4 1059.1,589.5 1061.1,589.9 1066.1,589.6 1074.6,590.5 1079.1,590.6 1081.6,592.7 1083.1,594.4 1084.2,596.8 1089.6,603.0 1090.8,605.1 1092.9,606.3 1093.8,609.1 1096.1,611.0 1097.4,612.4 1100.4,617.4 1102.5,618.5 1103.6,621.5 1105.6,623.5 1106.6,625.6 1108.6,627.3 1111.9,631.1 1112.8,633.9 1114.4,636.2 1116.3,638.1 1117.3,640.0 1117.5,642.0 1115.6,644.0 1116.1,649.0 1117.7,650.7 1120.1,652.1 1125.4,652.5 1127.0,653.8 1128.4,656.4 1130.3,658.2 1132.1,660.3 1133.2,663.0 1134.1,664.8 1137.6,669.5 1138.5,671.1 1140.7,673.3 1141.6,676.2 1142.7,678.4 1144.8,680.1 1145.8,682.4 1147.8,684.3 1148.6,686.7 1150.5,688.9 1151.6,691.6 1154.7,695.5 1155.9,697.8 1157.7,699.5 1158.6,701.7 1160.6,704.0 1161.7,706.3 1163.6,708.0 1164.3,711.0 1167.9,714.6 1167.7,717.7 1168.1,722.4 1170.1,723.6 1172.6,724.2 1174.2,726.0 1177.4,730.4 1180.0,735.3 1184.5,741.2 1186.1,743.7 1187.8,748.4 1189.9,750.6 1190.6,753.1 1193.8,757.6 1194.6,759.4 1196.4,761.8 1197.1,763.9 1199.7,768.2 1201.4,770.6 1202.1,772.9 1206.2,779.6 1207.1,782.7 1208.5,785.0 1210.5,789.6 1212.6,791.7 1213.0,794.0 1214.8,796.3 1216.0,798.2 1217.2,800.4 1219.0,805.1 1220.8,807.2 1222.4,811.9 1223.9,814.5 1226.0,819.4 1228.0,821.4 1228.5,824.1 1231.1,828.4 1231.6,830.7 1233.7,832.8 1237.6,842.2 1241.8,849.7 1243.4,854.0 1245.3,856.2 1245.9,859.1 1248.1,863.2 1249.1,866.0 1252.1,870.5 1252.5,873.0 1255.2,877.1 1256.2,879.6 1257.1,882.5 1259.0,885.0 1259.4,886.9 1261.1,889.6 1261.5,891.4 1263.1,893.7 1263.7,896.0 1266.6,901.1 1268.8,905.9 1270.4,910.0 1273.3,915.0 1274.8,919.4 1276.0,922.0 1277.9,927.1 1279.4,929.4 1281.4,934.6 1282.7,936.2 1283.2,939.2 1284.5,941.3 1286.5,945.9 1287.9,948.6 1288.3,950.6 1289.8,953.6 1289.9,955.5 1291.8,957.8 1294.1,965.6 1295.6,968.0 1296.8,972.6 1298.2,975.2 1298.6,978.0 1299.8,979.8 1300.5,982.9 1301.9,984.7 1302.3,987.7 1305.5,994.3 1307.5,1002.3 1309.3,1004.4 1309.5,1006.8 1310.2,1009.3 1311.4,1011.8 1311.9,1014.7 1314.3,1018.7 1316.1,1026.2 1318.6,1031.7 1319.9,1036.3 1320.4,1039.3 1322.0,1041.4 1322.2,1043.8 1323.1,1046.4 1323.6,1048.8 1325.8,1053.9 1327.2,1059.1 1328.7,1060.8 1330.3,1068.7 1334.9,1080.7 1337.3,1082.7 1339.4,1083.5 1344.5,1083.5 1346.9,1082.4 1350.1,1078.1 1350.4,1072.9 1349.2,1071.0 1348.1,1068.4 1346.4,1063.0 1343.2,1050.8 1341.4,1048.0 1340.7,1043.8 1338.1,1038.2 1338.0,1035.7 1336.3,1031.3 1334.8,1029.0 1334.8,1025.9 1331.4,1018.6 1331.4,1016.8 1329.8,1014.1 1328.7,1009.3 1327.1,1006.8 1326.2,1003.8 1325.7,1001.3 1323.8,997.0 1322.7,994.0 1322.3,991.5 1321.6,989.9 1320.0,987.4 1319.7,985.1 1318.2,980.1 1317.1,977.7 1315.6,975.2 1315.2,972.3 1313.0,967.8 1310.6,960.8 1308.0,955.2 1307.9,953.5 1305.2,948.4 1304.9,945.7 1302.1,940.8 1301.6,938.4 1300.1,935.9 1299.7,933.8 1297.2,929.2 1296.3,926.3 1294.5,922.4 1292.8,919.6 1292.4,917.1 1291.1,915.0 1289.2,910.1 1287.5,907.5 1287.2,905.0 1285.8,903.1 1282.1,896.1 1281.5,893.8 1280.0,891.2 1279.4,888.8 1276.0,882.3 1274.9,879.5 1273.2,877.1 1272.8,875.3 1270.8,872.6 1267.9,865.4 1266.5,863.4 1263.4,856.2 1261.9,854.1 1260.7,851.1 1259.3,848.8 1257.4,844.0 1255.8,842.3 1254.3,837.3 1252.7,835.4 1251.2,833.1 1250.3,830.2 1249.3,828.3 1248.5,826.1 1246.5,823.1 1245.7,820.7 1243.5,816.3 1242.1,814.2 1240.7,811.4 1240.2,809.2 1238.5,806.9 1237.7,804.6 1235.2,800.7 1234.4,797.5 1232.7,795.2 1231.9,793.0 1226.8,783.7 1225.3,781.6 1224.9,779.0 1223.0,777.2 1221.6,774.7 1221.1,772.3 1218.1,768.3 1217.6,765.8 1215.6,763.2 1213.7,758.5 1211.8,756.4 1207.9,750.1 1207.2,747.8 1205.5,745.3 1204.8,742.5 1201.7,738.8 1200.7,736.0 1197.5,732.3 1196.5,729.6 1193.4,724.9 1192.6,723.0 1190.9,720.8 1189.8,718.7 1186.1,714.3 1185.3,711.7 1180.6,706.0 1179.0,703.3 1177.7,701.7 1176.2,699.4 1175.1,696.7 1170.7,690.7 1168.2,686.0 1166.1,683.9 1165.0,681.4 1162.3,677.1 1160.4,674.9 1159.7,673.3 1157.7,670.5 1156.3,669.0 1155.4,666.2 1154.0,664.1 1151.7,661.8 1150.3,659.8 1149.6,657.8 1146.7,653.2 1144.8,651.8 1143.7,649.4 1143.4,646.5 1142.2,644.3 1138.5,641.6 1137.0,638.8 1134.7,636.9 1134.1,635.0 1132.2,633.1 1130.8,630.3 1129.1,628.9 1127.9,626.0 1124.3,622.2 1123.5,620.5 1119.5,616.2 1118.0,614.1 1116.7,611.4 1114.9,610.1 1113.4,607.6 1111.8,605.5 1110.9,603.2 1109.2,601.3 1107.0,599.7 1104.6,595.5 1102.4,593.3 1101.2,590.9 1099.7,588.9 1097.2,587.2 1095.9,584.8 1090.9,578.8 1089.7,577.0 1087.6,575.5 1085.8,573.1 1082.0,569.2 1080.3,567.0 1076.9,564.1 1070.3,556.2 1068.0,554.7 1066.5,552.6 1064.5,550.9 1062.9,548.8 1058.7,544.8 1057.3,542.9 1054.9,541.2 1053.8,539.3 1051.9,537.5 1049.8,535.6 1047.5,534.3 1044.4,530.7 1042.1,528.5 1040.0,526.9 1031.0,518.0 1028.6,516.3 1026.4,515.1 1024.4,513.0 1022.2,511.9 1021.1,509.7 1019.1,507.9 1014.3,505.4 1013.1,503.0 1005.9,499.0 1004.5,497.0 1002.1,495.8 993.4,489.2 991.8,487.6 989.1,486.8 986.9,485.3 985.3,483.4 982.9,481.9 981.3,480.6 976.5,478.0 970.4,473.3 968.4,471.4 959.4,465.8 957.1,464.9 955.3,463.0 953.2,461.5 948.5,458.7 946.0,457.6 940.2,453.4 935.3,451.0 933.4,448.8 930.5,447.8 929.0,446.2 926.1,445.8 924.3,444.0 921.4,442.3 914.8,439.3 912.5,437.8 910.4,437.1 908.2,435.8 905.1,435.2 902.6,433.3 900.9,432.9 895.7,430.1 890.7,428.8 889.1,427.3 886.4,426.6 884.0,425.3 879.1,423.6 876.2,423.4 873.9,422.5 872.0,421.2 869.3,419.8 867.0,419.6 864.4,418.9 861.8,417.6 857.0,415.7 854.1,414.9 852.3,414.9 847.3,412.4 844.4,412.4 841.9,410.9 839.5,410.8 837.6,409.3 834.7,409.3 829.8,407.8 824.7,405.9 819.3,404.8 817.4,403.4 814.5,403.3 809.6,402.1 807.0,401.4 804.5,400.2 801.8,399.9 794.7,398.1 792.0,396.8 789.9,396.9 787.3,396.2 784.2,395.0 782.2,395.1 779.3,394.4 777.1,393.5 769.6,391.9 766.7,391.8 764.0,390.8 761.5,390.9 759.3,390.6 756.7,389.3 751.6,389.4 748.3,388.4 746.1,388.1 744.0,387.1 738.1,386.8 736.1,385.8 731.2,385.9 728.3,385.0 726.0,384.7 720.0,384.3 713.0,383.1 710.0,382.0 704.8,382.3 699.5,381.1 697.6,381.2 694.2,380.8 692.6,379.7 689.8,379.4 687.1,380.1 681.4,379.1 679.0,379.0 676.8,378.3 671.3,377.7 668.3,378.1 666.4,377.1 663.8,377.5 660.9,376.9 658.2,377.0 653.2,376.4 650.9,375.9 642.5,375.9 640.8,374.9 637.7,374.9 635.0,374.6 632.6,375.0 625.1,374.2 622.5,374.4 619.9,373.9 611.7,373.6 609.0,372.8 607.0,373.4 603.9,372.9 600.9,373.1 595.8,372.0 593.7,372.4 585.6,371.7 582.8,371.7Z" fill="#8abc4b" stroke="#8abc4b" stroke-width="0.6" stroke-linejoin="round"/>
<g id="labels">
<text x="124.8" y="161.7" font-size="58.6" textLength="139.9" lengthAdjust="spacingAndGlyphs">-0.75</text>
<text x="124.8" y="348.5" font-size="58.6" textLength="139.9" lengthAdjust="spacingAndGlyphs">-0.80</text>
<text x="124.8" y="535.3" font-size="58.6" textLength="139.9" lengthAdjust="spacingAndGlyphs">-0.85</text>
<text x="124.8" y="722.1" font-size="58.6" textLength="139.9" lengthAdjust="spacingAndGlyphs">-0.90</text>
<text x="124.8" y="908.9" font-size="58.6" textLength="139.9" lengthAdjust="spacingAndGlyphs">-0.95</text>
<text x="124.8" y="1095.7" font-size="58.6" textLength="139.9" lengthAdjust="spacingAndGlyphs">-1.00</text>
<text y="1176.4" font-size="58"><tspan x="253.0" textLength="68.4" lengthAdjust="spacingAndGlyphs">10</tspan><tspan x="319.9" dy="-19.6" font-size="41" fill="#333" stroke="#333" stroke-width="0.3" textLength="24.5" lengthAdjust="spacingAndGlyphs">−</tspan><tspan x="342.5" dy="-1.1" font-size="41.5">9</tspan></text>
<text y="1178.6" font-size="58"><tspan x="568.8" textLength="68.4" lengthAdjust="spacingAndGlyphs">10</tspan><tspan x="635.7" dy="-19.6" font-size="41" fill="#333" stroke="#333" stroke-width="0.3" textLength="24.5" lengthAdjust="spacingAndGlyphs">−</tspan><tspan x="658.3" dy="-1.1" font-size="41.5">8</tspan></text>
<text y="1176.4" font-size="58"><tspan x="886.5" textLength="68.4" lengthAdjust="spacingAndGlyphs">10</tspan><tspan x="953.4" dy="-19.6" font-size="41" fill="#333" stroke="#333" stroke-width="0.3" textLength="24.5" lengthAdjust="spacingAndGlyphs">−</tspan><tspan x="976.0" dy="-1.1" font-size="41.5">7</tspan></text>
<text y="1178.6" font-size="58"><tspan x="1191.1" textLength="68.4" lengthAdjust="spacingAndGlyphs">10</tspan><tspan x="1258.0" dy="-19.6" font-size="41" fill="#333" stroke="#333" stroke-width="0.3" textLength="24.5" lengthAdjust="spacingAndGlyphs">−</tspan><tspan x="1280.6" dy="-1.1" font-size="41.5">6</tspan></text>
<text y="1182.5" font-size="58"><tspan x="1515.7" textLength="68.4" lengthAdjust="spacingAndGlyphs">10</tspan><tspan x="1582.6" dy="-19.6" font-size="41" fill="#333" stroke="#333" stroke-width="0.3" textLength="24.5" lengthAdjust="spacingAndGlyphs">−</tspan><tspan x="1605.2" dy="-1.1" font-size="41.5">5</tspan></text>
<text y="1270" font-size="57" class="b"><tspan x="810.3" textLength="17.5" lengthAdjust="spacingAndGlyphs" class="i">i</tspan> <tspan x="838.7" y="1276.1" font-size="82" rotate="16" style="font-weight:normal" stroke="#000" stroke-width="2.4">/</tspan> <tspan x="886.7" textLength="159.0" lengthAdjust="spacingAndGlyphs" y="1270">(A cm</tspan><tspan x="1045" y="1256.5" font-size="30" style="font-weight:normal" fill="#333" stroke="#333" stroke-width="1.3">–</tspan><tspan x="1062.3" y="1250" font-size="38">2</tspan><tspan x="1087.3" textLength="18.6" lengthAdjust="spacingAndGlyphs" y="1270">)</tspan></text>
<text transform="translate(85,690) rotate(-90)" y="0" font-size="58" class="b"><tspan x="-0.5" textLength="32.2" lengthAdjust="spacingAndGlyphs" class="i">E</tspan> <tspan x="43" y="5.1" font-size="82" rotate="16" style="font-weight:normal" stroke="#000" stroke-width="2.4">/</tspan> <tspan x="90.1" textLength="39.9" lengthAdjust="spacingAndGlyphs" y="0">V</tspan> <tspan x="145.4" textLength="76.0" lengthAdjust="spacingAndGlyphs">vs.</tspan> <tspan x="236.7" textLength="100.6" lengthAdjust="spacingAndGlyphs">SCE</tspan></text>
<path d="M31.5,1366.3H109.5" stroke="#1b80c4" stroke-width="8.6" stroke-linecap="round" fill="none"/><circle cx="70.5" cy="1369.5" r="3" fill="#1b80c4"/><text y="1387" font-size="57"><tspan x="119.6" textLength="30.6" lengthAdjust="spacingAndGlyphs">5</tspan> <tspan x="169.8" textLength="129.5" lengthAdjust="spacingAndGlyphs">wt.%</tspan> <tspan x="312.6" textLength="123.5" lengthAdjust="spacingAndGlyphs">NaCl</tspan></text>
<path d="M457.5,1366.3H534.5" stroke="#de4a49" stroke-width="8.6" stroke-linecap="round" fill="none"/><circle cx="496.0" cy="1369.5" r="3" fill="#de4a49"/><text y="1387" font-size="57"><tspan x="543.8" textLength="80.1" lengthAdjust="spacingAndGlyphs">0.3</tspan> <tspan x="641.9" textLength="106.8" lengthAdjust="spacingAndGlyphs">mM</tspan> <tspan x="762.7" textLength="124.1" lengthAdjust="spacingAndGlyphs">MBT</tspan></text>
<path d="M907.5,1366.3H984.5" stroke="#8abc4b" stroke-width="8.6" stroke-linecap="round" fill="none"/><circle cx="946.0" cy="1369.5" r="3" fill="#8abc4b"/><text y="1387" font-size="57"><tspan x="993.8" textLength="80.1" lengthAdjust="spacingAndGlyphs">0.3</tspan> <tspan x="1091.9" textLength="106.8" lengthAdjust="spacingAndGlyphs">mM</tspan> <tspan x="1212.7" textLength="124.4" lengthAdjust="spacingAndGlyphs">MBT</tspan> <tspan x="1351.2" textLength="34.1" lengthAdjust="spacingAndGlyphs">+</tspan> <tspan x="1399.2" textLength="82.6" lengthAdjust="spacingAndGlyphs">0.1</tspan> <tspan x="1500.6" textLength="128.0" lengthAdjust="spacingAndGlyphs">wt.%</tspan> <tspan x="1643.6" textLength="51.0" lengthAdjust="spacingAndGlyphs">KI</tspan></text>
</g>
</g>
</svg>
</body></html>
